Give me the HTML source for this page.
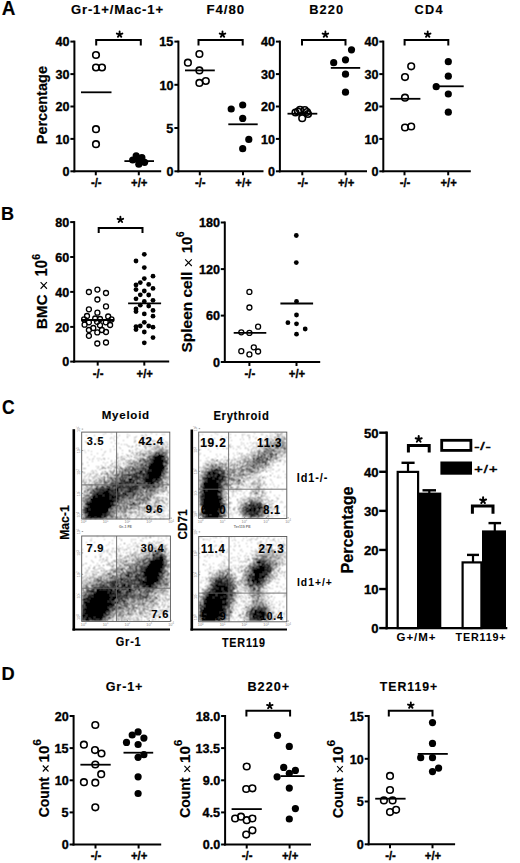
<!DOCTYPE html>
<html><head><meta charset="utf-8"><style>
html,body{margin:0;padding:0;background:#fff;}
body{width:520px;height:863px;overflow:hidden;}
svg{display:block;}
text{font-family:"Liberation Sans",sans-serif;}
</style></head><body><svg width="520" height="863" viewBox="0 0 520 863" font-family="Liberation Sans, sans-serif"><defs><filter id="bl" x="-5%" y="-5%" width="110%" height="110%"><feConvolveMatrix order="3" kernelMatrix="1 2 1 2 4 2 1 2 1" divisor="16"/></filter><filter id="gb" x="0" y="0" width="520" height="863" filterUnits="userSpaceOnUse"><feConvolveMatrix order="3" kernelMatrix="1 2 1 2 12 2 1 2 1" divisor="24"/></filter></defs><text transform="translate(1.83 14.8) scale(0.97 1)" font-size="19.48" font-weight="bold" fill="#000" stroke="#000" stroke-width="0.15">A</text><text transform="translate(70.96 13.5) scale(0.99 1)" font-size="13.23" font-weight="bold" fill="#000" stroke="#000" stroke-width="0.15" letter-spacing="0.84">Gr-1+/Mac-1+</text><text transform="translate(206.61 13.6) scale(0.99 1)" font-size="13.37" font-weight="bold" fill="#000" stroke="#000" stroke-width="0.15" letter-spacing="0.91">F4/80</text><text transform="translate(309.14 13.6) scale(0.96 1)" font-size="13.37" font-weight="bold" fill="#000" stroke="#000" stroke-width="0.15" letter-spacing="1.13">B220</text><text transform="translate(414.48 13.6) scale(0.95 1)" font-size="13.37" font-weight="bold" fill="#000" stroke="#000" stroke-width="0.15" letter-spacing="1.45">CD4</text><text transform="translate(47 144.27) rotate(-90) scale(1.03 1)" font-size="14.1" font-weight="bold" stroke="#000" stroke-width="0.2">Percentage</text><line x1="74.4" y1="40.6" x2="74.4" y2="172.3" stroke="#000" stroke-width="2"/><line x1="70.4" y1="41.6" x2="74.4" y2="41.6" stroke="#000" stroke-width="2"/><text transform="translate(55.5 46.33) scale(1.05 1)" font-size="12" font-weight="bold" fill="#000" stroke="#000" stroke-width="0.35">40</text><line x1="70.4" y1="74.1" x2="74.4" y2="74.1" stroke="#000" stroke-width="2"/><text transform="translate(55.5 78.83) scale(1.05 1)" font-size="12" font-weight="bold" fill="#000" stroke="#000" stroke-width="0.35">30</text><line x1="70.4" y1="106.5" x2="74.4" y2="106.5" stroke="#000" stroke-width="2"/><text transform="translate(55.5 111.23) scale(1.05 1)" font-size="12" font-weight="bold" fill="#000" stroke="#000" stroke-width="0.35">20</text><line x1="70.4" y1="138.9" x2="74.4" y2="138.9" stroke="#000" stroke-width="2"/><text transform="translate(55.5 143.63) scale(1.05 1)" font-size="12" font-weight="bold" fill="#000" stroke="#000" stroke-width="0.35">10</text><line x1="70.4" y1="171.3" x2="74.4" y2="171.3" stroke="#000" stroke-width="2"/><text transform="translate(62.51 176.03) scale(1.05 1)" font-size="12" font-weight="bold" fill="#000" stroke="#000" stroke-width="0.35">0</text><line x1="73.4" y1="171.3" x2="161.2" y2="171.3" stroke="#000" stroke-width="2"/><line x1="95.8" y1="171.3" x2="95.8" y2="175.3" stroke="#000" stroke-width="2"/><text transform="translate(90.95 186.7) scale(0.93 1)" font-size="12.2" font-weight="bold" fill="#000" stroke="#000" stroke-width="0.35">-/-</text><line x1="138.8" y1="171.3" x2="138.8" y2="175.3" stroke="#000" stroke-width="2"/><text transform="translate(131.09 186.7) scale(0.93 1)" font-size="12.2" font-weight="bold" fill="#000" stroke="#000" stroke-width="0.35">+/+</text><polyline points="96.2,45.5 96.2,40 140.8,40 140.8,45.5" fill="none" stroke="#000" stroke-width="2"/><path d="M119.6 34.48L119.6 31.54M119.6 34.48L122.4 33.57M119.6 34.48L121.33 36.86M119.6 34.48L117.87 36.86M119.6 34.48L116.8 33.57" stroke="#000" stroke-width="1.87" stroke-linecap="round" fill="none"/><circle cx="96" cy="55" r="3.3" fill="none" stroke="#000" stroke-width="1.6"/><circle cx="96" cy="67.5" r="3.3" fill="none" stroke="#000" stroke-width="1.6"/><circle cx="102" cy="67.5" r="3.3" fill="none" stroke="#000" stroke-width="1.6"/><circle cx="96" cy="129.2" r="3.3" fill="none" stroke="#000" stroke-width="1.6"/><circle cx="96" cy="144.2" r="3.3" fill="none" stroke="#000" stroke-width="1.6"/><circle cx="136.2" cy="155.8" r="3.6" fill="#000"/><circle cx="132.7" cy="160" r="3.6" fill="#000"/><circle cx="141.9" cy="157.7" r="3.6" fill="#000"/><circle cx="144.6" cy="162.3" r="3.6" fill="#000"/><circle cx="138.8" cy="164.2" r="3.6" fill="#000"/><circle cx="138.5" cy="160" r="3.6" fill="#000"/><line x1="81" y1="92.3" x2="111.5" y2="92.3" stroke="#000" stroke-width="1.8"/><line x1="124.4" y1="161.1" x2="154" y2="161.1" stroke="#000" stroke-width="1.8"/><line x1="178.4" y1="40.6" x2="178.4" y2="172.3" stroke="#000" stroke-width="2"/><line x1="174.4" y1="41.6" x2="178.4" y2="41.6" stroke="#000" stroke-width="2"/><text transform="translate(159.34 46.33) scale(1.05 1)" font-size="12" font-weight="bold" fill="#000" stroke="#000" stroke-width="0.35">15</text><line x1="174.4" y1="84.8" x2="178.4" y2="84.8" stroke="#000" stroke-width="2"/><text transform="translate(159.5 89.53) scale(1.05 1)" font-size="12" font-weight="bold" fill="#000" stroke="#000" stroke-width="0.35">10</text><line x1="174.4" y1="128" x2="178.4" y2="128" stroke="#000" stroke-width="2"/><text transform="translate(166.34 132.73) scale(1.05 1)" font-size="12" font-weight="bold" fill="#000" stroke="#000" stroke-width="0.35">5</text><line x1="174.4" y1="171.3" x2="178.4" y2="171.3" stroke="#000" stroke-width="2"/><text transform="translate(166.51 176.03) scale(1.05 1)" font-size="12" font-weight="bold" fill="#000" stroke="#000" stroke-width="0.35">0</text><line x1="177.4" y1="171.3" x2="263.5" y2="171.3" stroke="#000" stroke-width="2"/><line x1="199.8" y1="171.3" x2="199.8" y2="175.3" stroke="#000" stroke-width="2"/><text transform="translate(194.95 186.7) scale(0.93 1)" font-size="12.2" font-weight="bold" fill="#000" stroke="#000" stroke-width="0.35">-/-</text><line x1="243" y1="171.3" x2="243" y2="175.3" stroke="#000" stroke-width="2"/><text transform="translate(235.29 186.7) scale(0.93 1)" font-size="12.2" font-weight="bold" fill="#000" stroke="#000" stroke-width="0.35">+/+</text><polyline points="198.5,45.5 198.5,40 242.7,40 242.7,45.5" fill="none" stroke="#000" stroke-width="2"/><path d="M222.5 34.48L222.5 31.54M222.5 34.48L225.3 33.57M222.5 34.48L224.23 36.86M222.5 34.48L220.77 36.86M222.5 34.48L219.7 33.57" stroke="#000" stroke-width="1.87" stroke-linecap="round" fill="none"/><circle cx="187.9" cy="62.7" r="3.3" fill="none" stroke="#000" stroke-width="1.6"/><circle cx="199.4" cy="54" r="3.3" fill="none" stroke="#000" stroke-width="1.6"/><circle cx="199.4" cy="70.4" r="3.3" fill="none" stroke="#000" stroke-width="1.6"/><circle cx="205.8" cy="81" r="3.3" fill="none" stroke="#000" stroke-width="1.6"/><circle cx="199.4" cy="82.9" r="3.3" fill="none" stroke="#000" stroke-width="1.6"/><circle cx="231.2" cy="109" r="3.6" fill="#000"/><circle cx="242.7" cy="105" r="3.6" fill="#000"/><circle cx="242.7" cy="118.4" r="3.6" fill="#000"/><circle cx="248.8" cy="139.4" r="3.6" fill="#000"/><circle cx="242.7" cy="148.7" r="3.6" fill="#000"/><line x1="185" y1="70.4" x2="214.8" y2="70.4" stroke="#000" stroke-width="1.8"/><line x1="228.3" y1="124.3" x2="257.7" y2="124.3" stroke="#000" stroke-width="1.8"/><line x1="279.9" y1="40.6" x2="279.9" y2="172.3" stroke="#000" stroke-width="2"/><line x1="275.9" y1="41.6" x2="279.9" y2="41.6" stroke="#000" stroke-width="2"/><text transform="translate(261 46.33) scale(1.05 1)" font-size="12" font-weight="bold" fill="#000" stroke="#000" stroke-width="0.35">40</text><line x1="275.9" y1="74.1" x2="279.9" y2="74.1" stroke="#000" stroke-width="2"/><text transform="translate(261 78.83) scale(1.05 1)" font-size="12" font-weight="bold" fill="#000" stroke="#000" stroke-width="0.35">30</text><line x1="275.9" y1="106.5" x2="279.9" y2="106.5" stroke="#000" stroke-width="2"/><text transform="translate(261 111.23) scale(1.05 1)" font-size="12" font-weight="bold" fill="#000" stroke="#000" stroke-width="0.35">20</text><line x1="275.9" y1="138.9" x2="279.9" y2="138.9" stroke="#000" stroke-width="2"/><text transform="translate(261 143.63) scale(1.05 1)" font-size="12" font-weight="bold" fill="#000" stroke="#000" stroke-width="0.35">10</text><line x1="275.9" y1="171.3" x2="279.9" y2="171.3" stroke="#000" stroke-width="2"/><text transform="translate(268.01 176.03) scale(1.05 1)" font-size="12" font-weight="bold" fill="#000" stroke="#000" stroke-width="0.35">0</text><line x1="278.9" y1="171.3" x2="367" y2="171.3" stroke="#000" stroke-width="2"/><line x1="302.3" y1="171.3" x2="302.3" y2="175.3" stroke="#000" stroke-width="2"/><text transform="translate(297.45 186.7) scale(0.93 1)" font-size="12.2" font-weight="bold" fill="#000" stroke="#000" stroke-width="0.35">-/-</text><line x1="345.6" y1="171.3" x2="345.6" y2="175.3" stroke="#000" stroke-width="2"/><text transform="translate(337.89 186.7) scale(0.93 1)" font-size="12.2" font-weight="bold" fill="#000" stroke="#000" stroke-width="0.35">+/+</text><polyline points="302,45.5 302,40 345.5,40 345.5,45.5" fill="none" stroke="#000" stroke-width="2"/><path d="M325.4 34.48L325.4 31.54M325.4 34.48L328.2 33.57M325.4 34.48L327.13 36.86M325.4 34.48L323.67 36.86M325.4 34.48L322.6 33.57" stroke="#000" stroke-width="1.87" stroke-linecap="round" fill="none"/><circle cx="295.5" cy="112.5" r="3.3" fill="none" stroke="#000" stroke-width="1.6"/><circle cx="298" cy="111.5" r="3.3" fill="none" stroke="#000" stroke-width="1.6"/><circle cx="300" cy="109.8" r="3.3" fill="none" stroke="#000" stroke-width="1.6"/><circle cx="304.8" cy="110" r="3.3" fill="none" stroke="#000" stroke-width="1.6"/><circle cx="307" cy="112" r="3.3" fill="none" stroke="#000" stroke-width="1.6"/><circle cx="308" cy="114" r="3.3" fill="none" stroke="#000" stroke-width="1.6"/><circle cx="302.2" cy="118.2" r="3.3" fill="none" stroke="#000" stroke-width="1.6"/><circle cx="333.7" cy="62.7" r="3.6" fill="#000"/><circle cx="345.5" cy="59.8" r="3.6" fill="#000"/><circle cx="351.5" cy="49.8" r="3.6" fill="#000"/><circle cx="345.5" cy="74.2" r="3.6" fill="#000"/><circle cx="345.5" cy="92.2" r="3.6" fill="#000"/><line x1="287.5" y1="113.7" x2="317.3" y2="113.7" stroke="#000" stroke-width="1.8"/><line x1="330.8" y1="67.9" x2="360.2" y2="67.9" stroke="#000" stroke-width="1.8"/><line x1="383.3" y1="40.6" x2="383.3" y2="172.3" stroke="#000" stroke-width="2"/><line x1="379.3" y1="41.6" x2="383.3" y2="41.6" stroke="#000" stroke-width="2"/><text transform="translate(364.4 46.33) scale(1.05 1)" font-size="12" font-weight="bold" fill="#000" stroke="#000" stroke-width="0.35">40</text><line x1="379.3" y1="74.1" x2="383.3" y2="74.1" stroke="#000" stroke-width="2"/><text transform="translate(364.4 78.83) scale(1.05 1)" font-size="12" font-weight="bold" fill="#000" stroke="#000" stroke-width="0.35">30</text><line x1="379.3" y1="106.5" x2="383.3" y2="106.5" stroke="#000" stroke-width="2"/><text transform="translate(364.4 111.23) scale(1.05 1)" font-size="12" font-weight="bold" fill="#000" stroke="#000" stroke-width="0.35">20</text><line x1="379.3" y1="138.9" x2="383.3" y2="138.9" stroke="#000" stroke-width="2"/><text transform="translate(364.4 143.63) scale(1.05 1)" font-size="12" font-weight="bold" fill="#000" stroke="#000" stroke-width="0.35">10</text><line x1="379.3" y1="171.3" x2="383.3" y2="171.3" stroke="#000" stroke-width="2"/><text transform="translate(371.41 176.03) scale(1.05 1)" font-size="12" font-weight="bold" fill="#000" stroke="#000" stroke-width="0.35">0</text><line x1="382.3" y1="171.3" x2="470.8" y2="171.3" stroke="#000" stroke-width="2"/><line x1="404.5" y1="171.3" x2="404.5" y2="175.3" stroke="#000" stroke-width="2"/><text transform="translate(399.65 186.7) scale(0.93 1)" font-size="12.2" font-weight="bold" fill="#000" stroke="#000" stroke-width="0.35">-/-</text><line x1="448.2" y1="171.3" x2="448.2" y2="175.3" stroke="#000" stroke-width="2"/><text transform="translate(440.49 186.7) scale(0.93 1)" font-size="12.2" font-weight="bold" fill="#000" stroke="#000" stroke-width="0.35">+/+</text><polyline points="404.6,45.5 404.6,40 448.3,40 448.3,45.5" fill="none" stroke="#000" stroke-width="2"/><path d="M427.7 34.48L427.7 31.54M427.7 34.48L430.5 33.57M427.7 34.48L429.43 36.86M427.7 34.48L425.97 36.86M427.7 34.48L424.9 33.57" stroke="#000" stroke-width="1.87" stroke-linecap="round" fill="none"/><circle cx="411.2" cy="66.3" r="3.3" fill="none" stroke="#000" stroke-width="1.6"/><circle cx="405" cy="77.1" r="3.3" fill="none" stroke="#000" stroke-width="1.6"/><circle cx="405" cy="97.7" r="3.3" fill="none" stroke="#000" stroke-width="1.6"/><circle cx="405" cy="127.5" r="3.3" fill="none" stroke="#000" stroke-width="1.6"/><circle cx="411.2" cy="126.5" r="3.3" fill="none" stroke="#000" stroke-width="1.6"/><circle cx="448.3" cy="61.7" r="3.6" fill="#000"/><circle cx="448.3" cy="76.2" r="3.6" fill="#000"/><circle cx="436.2" cy="86.7" r="3.6" fill="#000"/><circle cx="448.3" cy="94" r="3.6" fill="#000"/><circle cx="448.3" cy="112.2" r="3.6" fill="#000"/><line x1="390.2" y1="98.8" x2="420.4" y2="98.8" stroke="#000" stroke-width="1.8"/><line x1="437.7" y1="86.3" x2="463.7" y2="86.3" stroke="#000" stroke-width="1.8"/><text transform="translate(0.99 219.6) scale(0.95 1)" font-size="19.04" font-weight="bold" fill="#000" stroke="#000" stroke-width="0.15">B</text><line x1="74.2" y1="221.1" x2="74.2" y2="362.6" stroke="#000" stroke-width="2"/><line x1="70.2" y1="222.1" x2="74.2" y2="222.1" stroke="#000" stroke-width="2"/><text transform="translate(55.3 226.83) scale(1.05 1)" font-size="12" font-weight="bold" fill="#000" stroke="#000" stroke-width="0.35">80</text><line x1="70.2" y1="257" x2="74.2" y2="257" stroke="#000" stroke-width="2"/><text transform="translate(55.3 261.73) scale(1.05 1)" font-size="12" font-weight="bold" fill="#000" stroke="#000" stroke-width="0.35">60</text><line x1="70.2" y1="291.9" x2="74.2" y2="291.9" stroke="#000" stroke-width="2"/><text transform="translate(55.3 296.63) scale(1.05 1)" font-size="12" font-weight="bold" fill="#000" stroke="#000" stroke-width="0.35">40</text><line x1="70.2" y1="326.9" x2="74.2" y2="326.9" stroke="#000" stroke-width="2"/><text transform="translate(55.3 331.63) scale(1.05 1)" font-size="12" font-weight="bold" fill="#000" stroke="#000" stroke-width="0.35">20</text><line x1="70.2" y1="361.6" x2="74.2" y2="361.6" stroke="#000" stroke-width="2"/><text transform="translate(62.31 366.33) scale(1.05 1)" font-size="12" font-weight="bold" fill="#000" stroke="#000" stroke-width="0.35">0</text><line x1="73.2" y1="361.6" x2="169.2" y2="361.6" stroke="#000" stroke-width="2"/><line x1="97.7" y1="361.6" x2="97.7" y2="365.6" stroke="#000" stroke-width="2"/><text transform="translate(92.85 377.7) scale(0.93 1)" font-size="12.2" font-weight="bold" fill="#000" stroke="#000" stroke-width="0.35">-/-</text><line x1="144.3" y1="361.6" x2="144.3" y2="365.6" stroke="#000" stroke-width="2"/><text transform="translate(136.59 377.7) scale(0.93 1)" font-size="12.2" font-weight="bold" fill="#000" stroke="#000" stroke-width="0.35">+/+</text><polyline points="98.7,232.9 98.7,228 142.5,228 142.5,232.9" fill="none" stroke="#000" stroke-width="2"/><path d="M120.4 219.68L120.4 216.74M120.4 219.68L123.2 218.77M120.4 219.68L122.13 222.06M120.4 219.68L118.67 222.06M120.4 219.68L117.6 218.77" stroke="#000" stroke-width="1.87" stroke-linecap="round" fill="none"/><circle cx="88.9" cy="292" r="2.5" fill="none" stroke="#000" stroke-width="1.3"/><circle cx="97.4" cy="289.6" r="2.5" fill="none" stroke="#000" stroke-width="1.3"/><circle cx="106" cy="293" r="2.5" fill="none" stroke="#000" stroke-width="1.3"/><circle cx="97.4" cy="299.5" r="2.5" fill="none" stroke="#000" stroke-width="1.3"/><circle cx="106" cy="306.4" r="2.5" fill="none" stroke="#000" stroke-width="1.3"/><circle cx="88.9" cy="309.3" r="2.5" fill="none" stroke="#000" stroke-width="1.3"/><circle cx="97.4" cy="312.7" r="2.5" fill="none" stroke="#000" stroke-width="1.3"/><circle cx="87" cy="316" r="2.5" fill="none" stroke="#000" stroke-width="1.3"/><circle cx="108.2" cy="316.5" r="2.5" fill="none" stroke="#000" stroke-width="1.3"/><circle cx="84.1" cy="319.4" r="2.5" fill="none" stroke="#000" stroke-width="1.3"/><circle cx="95.2" cy="318.5" r="2.5" fill="none" stroke="#000" stroke-width="1.3"/><circle cx="100" cy="319" r="2.5" fill="none" stroke="#000" stroke-width="1.3"/><circle cx="111.5" cy="319.4" r="2.5" fill="none" stroke="#000" stroke-width="1.3"/><circle cx="88.9" cy="322.3" r="2.5" fill="none" stroke="#000" stroke-width="1.3"/><circle cx="97.1" cy="321.8" r="2.5" fill="none" stroke="#000" stroke-width="1.3"/><circle cx="105.8" cy="322.3" r="2.5" fill="none" stroke="#000" stroke-width="1.3"/><circle cx="84.6" cy="324.7" r="2.5" fill="none" stroke="#000" stroke-width="1.3"/><circle cx="100" cy="325.2" r="2.5" fill="none" stroke="#000" stroke-width="1.3"/><circle cx="110.1" cy="325" r="2.5" fill="none" stroke="#000" stroke-width="1.3"/><circle cx="93.3" cy="328" r="2.5" fill="none" stroke="#000" stroke-width="1.3"/><circle cx="88.9" cy="330" r="2.5" fill="none" stroke="#000" stroke-width="1.3"/><circle cx="101.9" cy="330" r="2.5" fill="none" stroke="#000" stroke-width="1.3"/><circle cx="97.3" cy="332.4" r="2.5" fill="none" stroke="#000" stroke-width="1.3"/><circle cx="106" cy="332" r="2.5" fill="none" stroke="#000" stroke-width="1.3"/><circle cx="88.9" cy="335.8" r="2.5" fill="none" stroke="#000" stroke-width="1.3"/><circle cx="97.3" cy="343.5" r="2.5" fill="none" stroke="#000" stroke-width="1.3"/><circle cx="106" cy="342.5" r="2.5" fill="none" stroke="#000" stroke-width="1.3"/><line x1="81.7" y1="320" x2="114" y2="320" stroke="#000" stroke-width="1.8"/><circle cx="144.3" cy="254.3" r="2.4" fill="#000"/><circle cx="136" cy="261" r="2.4" fill="#000"/><circle cx="144.3" cy="267.6" r="2.4" fill="#000"/><circle cx="153" cy="276.2" r="2.4" fill="#000"/><circle cx="144.3" cy="278.6" r="2.4" fill="#000"/><circle cx="140.3" cy="282.6" r="2.4" fill="#000"/><circle cx="136" cy="285" r="2.4" fill="#000"/><circle cx="148.7" cy="284.4" r="2.4" fill="#000"/><circle cx="136" cy="289.6" r="2.4" fill="#000"/><circle cx="153" cy="288.4" r="2.4" fill="#000"/><circle cx="144.3" cy="291" r="2.4" fill="#000"/><circle cx="140.3" cy="294.8" r="2.4" fill="#000"/><circle cx="148.7" cy="295" r="2.4" fill="#000"/><circle cx="136" cy="298.8" r="2.4" fill="#000"/><circle cx="144.3" cy="301.5" r="2.4" fill="#000"/><circle cx="153" cy="300.3" r="2.4" fill="#000"/><circle cx="140.3" cy="305.2" r="2.4" fill="#000"/><circle cx="148.7" cy="306.1" r="2.4" fill="#000"/><circle cx="136" cy="308.9" r="2.4" fill="#000"/><circle cx="136" cy="311.5" r="2.4" fill="#000"/><circle cx="153" cy="310.4" r="2.4" fill="#000"/><circle cx="144.3" cy="313.9" r="2.4" fill="#000"/><circle cx="153" cy="316.2" r="2.4" fill="#000"/><circle cx="144.3" cy="322.3" r="2.4" fill="#000"/><circle cx="136" cy="326.6" r="2.4" fill="#000"/><circle cx="140.3" cy="326" r="2.4" fill="#000"/><circle cx="148.7" cy="326" r="2.4" fill="#000"/><circle cx="153" cy="327.2" r="2.4" fill="#000"/><circle cx="136" cy="329.5" r="2.4" fill="#000"/><circle cx="144.3" cy="332" r="2.4" fill="#000"/><circle cx="153" cy="337.6" r="2.4" fill="#000"/><circle cx="144.3" cy="342.8" r="2.4" fill="#000"/><line x1="128.1" y1="303.4" x2="161.1" y2="303.4" stroke="#000" stroke-width="1.8"/><text transform="translate(46.6 329.33) rotate(-90) scale(0.99 1)" font-size="15.55" font-weight="bold" stroke="#000" stroke-width="0.2">BMC</text><text transform="translate(46.6 276.53) rotate(-90) scale(0.94 1)" font-size="15.7" font-weight="bold" stroke="#000" stroke-width="0.2">10</text><text transform="translate(39.6 259.79) rotate(-90) scale(0.92 1)" font-size="11.46" font-weight="bold" stroke="#000" stroke-width="0.2">6</text><g transform="translate(40.6 288.75) rotate(-90)"><path d="M0 0L6.7 6.3M6.7 0L0 6.3" stroke="#000" stroke-width="1.1"/></g><line x1="224.8" y1="221.5" x2="224.8" y2="363" stroke="#000" stroke-width="2"/><line x1="220.8" y1="222.5" x2="224.8" y2="222.5" stroke="#000" stroke-width="2"/><text transform="translate(198.89 227.23) scale(1.05 1)" font-size="12" font-weight="bold" fill="#000" stroke="#000" stroke-width="0.35">180</text><line x1="220.8" y1="269.1" x2="224.8" y2="269.1" stroke="#000" stroke-width="2"/><text transform="translate(198.89 273.83) scale(1.05 1)" font-size="12" font-weight="bold" fill="#000" stroke="#000" stroke-width="0.35">120</text><line x1="220.8" y1="315.6" x2="224.8" y2="315.6" stroke="#000" stroke-width="2"/><text transform="translate(205.9 320.33) scale(1.05 1)" font-size="12" font-weight="bold" fill="#000" stroke="#000" stroke-width="0.35">60</text><line x1="220.8" y1="362" x2="224.8" y2="362" stroke="#000" stroke-width="2"/><text transform="translate(212.91 366.73) scale(1.05 1)" font-size="12" font-weight="bold" fill="#000" stroke="#000" stroke-width="0.35">0</text><line x1="223.8" y1="362" x2="320.2" y2="362" stroke="#000" stroke-width="2"/><line x1="249.4" y1="362" x2="249.4" y2="366" stroke="#000" stroke-width="2"/><text transform="translate(244.55 378.4) scale(0.93 1)" font-size="12.2" font-weight="bold" fill="#000" stroke="#000" stroke-width="0.35">-/-</text><line x1="296.5" y1="362" x2="296.5" y2="366" stroke="#000" stroke-width="2"/><text transform="translate(288.79 378.4) scale(0.93 1)" font-size="12.2" font-weight="bold" fill="#000" stroke="#000" stroke-width="0.35">+/+</text><circle cx="249.4" cy="291.9" r="2.5" fill="none" stroke="#000" stroke-width="1.3"/><circle cx="249.4" cy="307.5" r="2.5" fill="none" stroke="#000" stroke-width="1.3"/><circle cx="258.1" cy="326.7" r="2.5" fill="none" stroke="#000" stroke-width="1.3"/><circle cx="241.3" cy="332.3" r="2.5" fill="none" stroke="#000" stroke-width="1.3"/><circle cx="249.4" cy="332.9" r="2.5" fill="none" stroke="#000" stroke-width="1.3"/><circle cx="253.8" cy="347.3" r="2.5" fill="none" stroke="#000" stroke-width="1.3"/><circle cx="241.3" cy="351.2" r="2.5" fill="none" stroke="#000" stroke-width="1.3"/><circle cx="258.1" cy="351.5" r="2.5" fill="none" stroke="#000" stroke-width="1.3"/><circle cx="249.4" cy="354.4" r="2.5" fill="none" stroke="#000" stroke-width="1.3"/><line x1="233.7" y1="332.9" x2="266.3" y2="332.9" stroke="#000" stroke-width="1.8"/><circle cx="296.3" cy="235.5" r="2.4" fill="#000"/><circle cx="296.3" cy="262.6" r="2.4" fill="#000"/><circle cx="296.5" cy="301.5" r="2.4" fill="#000"/><circle cx="296.5" cy="315" r="2.4" fill="#000"/><circle cx="287.9" cy="322.7" r="2.4" fill="#000"/><circle cx="296.5" cy="323.8" r="2.4" fill="#000"/><circle cx="305.2" cy="329" r="2.4" fill="#000"/><circle cx="296.5" cy="334.2" r="2.4" fill="#000"/><line x1="280.4" y1="303.5" x2="313.1" y2="303.5" stroke="#000" stroke-width="1.8"/><text transform="translate(191.9 352.44) rotate(-90) scale(1.01 1)" font-size="15.29" font-weight="bold" stroke="#000" stroke-width="0.2">Spleen cell</text><text transform="translate(191.9 253.35) rotate(-90) scale(0.98 1)" font-size="15.41" font-weight="bold" stroke="#000" stroke-width="0.2">10</text><text transform="translate(184.4 236.97) rotate(-90) scale(0.91 1)" font-size="11.17" font-weight="bold" stroke="#000" stroke-width="0.2">6</text><g transform="translate(185.2 266.0) rotate(-90)"><path d="M0 0L6.6 6.6M6.6 0L0 6.6" stroke="#000" stroke-width="1.1"/></g><text transform="translate(1.88 414.2) scale(0.88 1)" font-size="19.91" font-weight="bold" fill="#000" stroke="#000" stroke-width="0.15">C</text><text transform="translate(101.73 419) scale(0.99 1)" font-size="11.63" font-weight="bold" fill="#000" stroke="#000" stroke-width="0.15" letter-spacing="0.77">Myeloid</text><text transform="translate(213.45 419.5) scale(0.91 1)" font-size="12.35" font-weight="bold" fill="#000" stroke="#000" stroke-width="0.15" letter-spacing="0.74">Erythroid</text><g filter="url(#bl)" transform="translate(0 0.5)" fill="none" stroke-width="1"><path stroke="#b0b0b0" d="M105 433h1m5 0h1m39 0h1M103 434h1m23 0h1m17 0h1m10 0h1m5 0h1m1 0h1M86 435h1m7 0h1m24 0h1m9 0h1m11 0h2m3 0h1M114 436h1m12 0h1m8 0h1m6 0h1M111 437h1m5 0h1m9 0h1m6 0h2m8 0h1m5 0h1M110 438h1m2 0h1m28 0h1M96 439h2m36 0h1m8 0h1m1 0h1m2 0h1m1 0h1m12 0h1M114 440h1m8 0h1m11 0h1m5 0h1m10 0h1m1 0h1m5 0h1M85 441h1m48 0h2m4 0h1m8 0h1m2 0h2m1 0h1m1 0h2m3 0h1m2 0h1M86 442h1m10 0h1m13 0h1m22 0h1m10 0h2m2 0h1m16 0h2M87 443h1m10 0h1m16 0h1m2 0h1m20 0h1m3 0h1m1 0h1m4 0h1m2 0h1m4 0h1m3 0h3M95 444h1m25 0h1m2 0h1m1 0h1m9 0h1m9 0h1m5 0h1m2 0h1m1 0h1m5 0h1M127 445h1m8 0h1m8 0h1m2 0h4m1 0h1m1 0h1m8 0h2M113 446h1m14 0h2m5 0h1m9 0h1m2 0h1m5 0h1m1 0h3m2 0h2m3 0h2M119 447h1m11 0h1m13 0h2m5 0h5m1 0h2m3 0h1m2 0h1m1 0h1M120 448h1m15 0h2m11 0h1m1 0h1m2 0h3m1 0h4M101 449h1m8 0h1m3 0h1m20 0h1m3 0h1m2 0h1m3 0h1m4 0h2m3 0h2m2 0h1m1 0h1m1 0h3m1 0h1M84 450h1m3 0h1m33 0h1m9 0h1m3 0h1m4 0h1m2 0h1m3 0h3m3 0h1m2 0h1m1 0h1m2 0h2m1 0h1m2 0h1M91 451h1m13 0h1m4 0h1m18 0h2m11 0h1m1 0h5m1 0h2m2 0h2m1 0h2m1 0h1m2 0h5M85 452h1m18 0h1m30 0h1m1 0h4m5 0h1m1 0h2m2 0h3m6 0h1m5 0h1M97 453h1m19 0h1m4 0h1m8 0h1m1 0h1m3 0h1m5 0h3m2 0h1m2 0h1m2 0h1m5 0h1m4 0h1m1 0h1M91 454h1m11 0h1m13 0h1m8 0h1m6 0h1m2 0h2m1 0h1m3 0h1m1 0h4m1 0h2m1 0h1m3 0h1m5 0h2m2 0h1M102 455h1m14 0h1m10 0h1m1 0h1m3 0h3m1 0h3m1 0h1m5 0h1m1 0h1m1 0h1m13 0h2M94 456h1m21 0h1m4 0h2m1 0h1m3 0h1m8 0h1m1 0h1m1 0h1m1 0h3m1 0h1m17 0h1M87 457h1m29 0h2m1 0h2m4 0h1m2 0h1m5 0h2m3 0h1m1 0h1m7 0h2m16 0h1M93 458h1m3 0h1m1 0h1m3 0h2m3 0h1m13 0h3m11 0h4m1 0h1m2 0h1m1 0h1M89 459h1m2 0h1m8 0h1m2 0h1m15 0h3m7 0h2m3 0h1m1 0h2m2 0h1m4 0h1m1 0h1M98 460h1m12 0h1m3 0h1m2 0h1m3 0h1m6 0h3m2 0h1m2 0h2m7 0h1m21 0h1M92 461h1m18 0h1m6 0h1m1 0h1m4 0h1m2 0h3m1 0h4m5 0h1m1 0h1m5 0h1m18 0h1M87 462h1m15 0h1m3 0h1m6 0h4m5 0h1m2 0h1m1 0h1m3 0h1m3 0h1m1 0h1m1 0h1m1 0h2m3 0h1m20 0h1M82 463h1m22 0h1m12 0h1m1 0h1m4 0h1m2 0h1m1 0h1m3 0h3m1 0h3m3 0h2m18 0h1M82 464h1m28 0h2m2 0h1m2 0h1m1 0h1m3 0h1m1 0h1m1 0h3m1 0h2m2 0h1m1 0h1m4 0h2m2 0h1m16 0h1m1 0h1M88 465h1m12 0h1m3 0h1m9 0h1m1 0h2m4 0h1m2 0h3m1 0h1m2 0h2m2 0h3m7 0h1m19 0h2M96 466h1m1 0h1m3 0h1m5 0h1m2 0h4m1 0h2m2 0h1m4 0h1m1 0h2m4 0h2m4 0h1m2 0h1m1 0h1m23 0h1M98 467h1m3 0h1m1 0h1m2 0h3m4 0h1m2 0h1m3 0h1m4 0h1m2 0h1m4 0h3m3 0h1m4 0h1m19 0h2M83 468h3m11 0h1m3 0h1m2 0h1m3 0h1m1 0h2m2 0h1m1 0h4m3 0h3m2 0h1m1 0h1m16 0h1M99 469h2m13 0h1m3 0h2m1 0h1m8 0h1m5 0h1m2 0h1m1 0h1m23 0h1M92 470h1m2 0h1m13 0h2m2 0h1m2 0h1m3 0h1m2 0h1m4 0h2m7 0h1m28 0h1m1 0h1M91 471h1m1 0h1m2 0h1m5 0h1m1 0h1m4 0h2m3 0h1m1 0h1m4 0h1m1 0h2m5 0h1m2 0h1m2 0h1m1 0h1m4 0h1m20 0h1m2 0h2M83 472h2m8 0h1m8 0h1m3 0h2m2 0h3m11 0h1m2 0h1m2 0h1m2 0h2M84 473h1m3 0h1m1 0h1m1 0h2m1 0h1m1 0h1m4 0h4m4 0h2m1 0h1m3 0h2m1 0h1m2 0h3m4 0h1m1 0h1m35 0h1M87 474h1m8 0h2m6 0h3m1 0h2m2 0h2m2 0h1m45 0h1m3 0h1m1 0h1M86 475h1m2 0h1m5 0h2m1 0h1m1 0h1m6 0h1m3 0h2m6 0h2m17 0h1m25 0h3m1 0h1M84 476h2m3 0h1m1 0h1m4 0h1m2 0h1m3 0h1m4 0h1m1 0h1m4 0h2m1 0h3m2 0h1m1 0h1m1 0h1m13 0h1m23 0h1M88 477h1m3 0h2m1 0h1m1 0h1m2 0h4m1 0h1m2 0h1m4 0h1m1 0h1m2 0h1m9 0h1m1 0h1m31 0h1m1 0h1m2 0h1M84 478h1m8 0h2m4 0h1m1 0h2m4 0h3m2 0h2m3 0h1m3 0h1m2 0h1m2 0h1m5 0h1m31 0h4M83 479h1m2 0h1m1 0h2m2 0h1m6 0h1m2 0h1m4 0h4m7 0h1m7 0h1m14 0h1m20 0h1m1 0h1m1 0h1M85 480h1m3 0h1m4 0h3m1 0h1m1 0h1m1 0h1m3 0h1m1 0h1m1 0h2m2 0h1m1 0h1m1 0h1m7 0h1m11 0h1m25 0h1m1 0h2M82 481h2m2 0h1m2 0h1m1 0h1m1 0h1m2 0h1m1 0h3m5 0h2m4 0h1m4 0h1m1 0h1m15 0h1m2 0h1m1 0h1m20 0h1m1 0h2m1 0h3M82 482h1m2 0h2m2 0h1m2 0h1m1 0h3m3 0h1m2 0h1m4 0h3m3 0h1m27 0h1m16 0h1m6 0h1M84 483h2m2 0h1m3 0h1m2 0h1m1 0h5m1 0h1m4 0h2m7 0h1m28 0h1m8 0h1m7 0h3m2 0h1M84 484h2m5 0h2m1 0h1m2 0h2m3 0h2m1 0h2m23 0h1m2 0h1m22 0h2m2 0h2m1 0h1M83 485h1m1 0h1m8 0h1m1 0h1m1 0h1m1 0h1m2 0h1m5 0h1m14 0h1m30 0h1m4 0h1m4 0h1M82 486h1m3 0h1m3 0h1m1 0h1m1 0h2m3 0h2m3 0h2m5 0h1m27 0h1m1 0h1m9 0h1m4 0h1m3 0h1m2 0h2m3 0h1M84 487h1m1 0h7m1 0h1m3 0h2m5 0h1m8 0h1m25 0h1m18 0h2m1 0h2M82 488h1m1 0h3m1 0h2m1 0h1m47 0h1m1 0h1m4 0h1m2 0h1m1 0h1m1 0h1m1 0h1m1 0h2m3 0h1m1 0h1M82 489h1m3 0h1m3 0h2m2 0h1m24 0h1m4 0h1m1 0h1m15 0h2m1 0h1m2 0h1m4 0h1m2 0h1m2 0h1m2 0h2m2 0h1M84 490h1m6 0h1m3 0h1m42 0h2m8 0h1m6 0h2m1 0h2m1 0h7M85 491h1m4 0h1m28 0h1m3 0h1m10 0h1m2 0h1m3 0h2m4 0h2m3 0h1m4 0h2m2 0h1m5 0h1M85 492h1m1 0h1m4 0h1m28 0h1m16 0h2m2 0h1m1 0h1m3 0h2m3 0h3m2 0h1m3 0h1M83 493h1m3 0h3m37 0h1m1 0h1m1 0h1m4 0h1m2 0h1m4 0h4m1 0h1m2 0h1m2 0h1m1 0h1m2 0h1m1 0h1m4 0h1M83 494h4m53 0h2m6 0h1m1 0h1m1 0h1m2 0h2m3 0h1m2 0h1m2 0h1M83 495h1m1 0h1m43 0h1m1 0h1m3 0h1m3 0h1m4 0h3m1 0h1m3 0h2m13 0h1M87 496h1m1 0h1m35 0h1m3 0h1m4 0h2m3 0h1m3 0h3m5 0h1m1 0h3m2 0h1M85 497h1m1 0h2m2 0h1m28 0h1m6 0h1m3 0h1m2 0h3m1 0h1m1 0h3m3 0h1m1 0h1m2 0h1m2 0h1m1 0h1m4 0h3m1 0h1M120 498h1m4 0h1m1 0h1m7 0h1m1 0h1m5 0h1m1 0h1m3 0h2m1 0h8m2 0h2M83 499h2m1 0h1m2 0h1m32 0h1m1 0h2m1 0h1m1 0h1m1 0h3m1 0h1m3 0h1m5 0h1m4 0h1m4 0h1m5 0h1m3 0h3M84 500h1m3 0h1m31 0h1m4 0h1m1 0h1m3 0h1m1 0h2m3 0h1m8 0h1m1 0h1m1 0h1m1 0h1m1 0h3m2 0h1m2 0h1m2 0h1M82 501h2m1 0h1m33 0h1m2 0h2m1 0h2m1 0h1m3 0h2m1 0h1m4 0h2m2 0h2m1 0h1m1 0h1m5 0h1m2 0h2m2 0h2m4 0h1M83 502h1m1 0h1m34 0h1m1 0h2m3 0h1m1 0h1m1 0h1m3 0h1m5 0h1m2 0h1m1 0h3m3 0h2m3 0h1m4 0h2M82 503h2m30 0h1m1 0h2m7 0h2m2 0h1m5 0h1m1 0h1m5 0h1m4 0h1m1 0h1m4 0h1m2 0h3m3 0h2M119 504h1m1 0h3m1 0h2m1 0h1m8 0h1m2 0h1m4 0h1m2 0h1m2 0h2m1 0h2m1 0h1m4 0h1m3 0h1M83 505h3m34 0h2m2 0h2m1 0h1m5 0h1m2 0h1m1 0h1m6 0h1m2 0h1m6 0h4m1 0h1m5 0h1M82 506h1m1 0h1m1 0h1m28 0h1m5 0h2m2 0h1m3 0h2m1 0h6m1 0h2m1 0h1m1 0h1m1 0h1m3 0h2m3 0h1m2 0h2m1 0h4m2 0h1M112 507h1m1 0h1m2 0h1m1 0h1m2 0h2m4 0h1m4 0h1m2 0h1m3 0h1m1 0h2m2 0h2m2 0h1m1 0h1m1 0h2m6 0h1m1 0h1M83 508h1m30 0h1m2 0h2m9 0h1m3 0h3m3 0h2m5 0h1m1 0h4m2 0h1m5 0h1m4 0h1m1 0h1M109 509h1m3 0h4m4 0h2m1 0h1m1 0h1m2 0h3m2 0h1m2 0h1m2 0h1m1 0h3m1 0h2m3 0h1m6 0h3m1 0h1M109 510h1m1 0h2m4 0h4m2 0h1m5 0h2m7 0h1m2 0h5m5 0h1m2 0h1m2 0h1m2 0h1m4 0h1m2 0h1M82 511h2m32 0h2m11 0h1m3 0h2m1 0h1m5 0h1m1 0h1m1 0h2m2 0h1m3 0h1m1 0h1m2 0h1m3 0h1M111 512h1m3 0h2m3 0h4m2 0h1m1 0h1m2 0h1m1 0h4m1 0h2m1 0h1m2 0h1m3 0h1m1 0h3m1 0h1m1 0h1M83 513h1m27 0h1m4 0h2m4 0h1m5 0h1m1 0h1m4 0h2m1 0h2m1 0h3m7 0h1m5 0h2m3 0h2M83 514h2m1 0h1m23 0h1m1 0h1m1 0h1m2 0h2m1 0h1m2 0h2m1 0h1m3 0h1m3 0h1m1 0h1m2 0h2m1 0h1m3 0h1m9 0h2m1 0h2m7 0h1M82 515h1m29 0h1m6 0h6m3 0h1m2 0h1m7 0h1m2 0h4m3 0h1m4 0h1m3 0h2m1 0h1m2 0h1m2 0h1M82 516h3m23 0h2m4 0h5m2 0h1m1 0h4m5 0h1m1 0h1m1 0h1m3 0h3m1 0h1m2 0h2m1 0h3m9 0h2m1 0h1m2 0h1M82 517h1m25 0h3m2 0h2m3 0h2m1 0h1m3 0h3m1 0h2m7 0h1m3 0h1m2 0h2m2 0h2m9 0h1M82 518h1m21 0h2m2 0h1m1 0h4m1 0h1m1 0h1m4 0h1m5 0h2m5 0h1m9 0h2m8 0h1m4 0h1m2 0h1M215 433h1m38 0h1m15 0h1m6 0h1m4 0h1M202 434h1m14 0h1m12 0h1m11 0h1m1 0h1m16 0h2m9 0h1m5 0h2m5 0h1M199 435h1m11 0h1m23 0h1m6 0h1m4 0h3m16 0h1m3 0h1m6 0h2m1 0h1m1 0h1M221 436h1m31 0h1m13 0h1m2 0h1m1 0h1m2 0h1m2 0h2m1 0h2m1 0h1M226 437h1m3 0h1m11 0h1m13 0h1m8 0h1m9 0h1m3 0h1m2 0h2M214 438h1m40 0h1m9 0h1m2 0h1m1 0h2m3 0h1m4 0h3m2 0h1M210 439h1m29 0h1m2 0h1m5 0h1m11 0h2m4 0h3m1 0h2m1 0h1m1 0h1m1 0h1m2 0h1m2 0h1M207 440h1m13 0h1m9 0h1m30 0h1m2 0h1m3 0h1m2 0h1m2 0h4m2 0h3M200 441h1m61 0h1m1 0h1m2 0h1m3 0h2m2 0h2m2 0h1m1 0h2M203 442h1m1 0h1m6 0h1m28 0h1m8 0h1m3 0h1m1 0h1m6 0h1m3 0h2m2 0h1m1 0h1m2 0h2m3 0h1m1 0h1M209 443h1m3 0h1m9 0h1m19 0h1m3 0h1m4 0h2m2 0h1m1 0h1m10 0h1m1 0h2m1 0h3m1 0h1m1 0h2m1 0h3M216 444h1m4 0h1m8 0h1m10 0h1m14 0h1m3 0h1m1 0h2m1 0h3m1 0h1m2 0h1m2 0h3m1 0h1m2 0h1m1 0h2M201 445h1m26 0h2m14 0h1m6 0h1m5 0h1m2 0h1m4 0h3m1 0h1m5 0h1m2 0h4M200 446h1m15 0h1m12 0h2m1 0h1m4 0h1m1 0h1m9 0h1m3 0h1m2 0h1m1 0h3m3 0h1m1 0h1m2 0h1m2 0h2m1 0h1m5 0h1m3 0h1M205 447h1m24 0h1m7 0h1m6 0h1m8 0h1m1 0h2m2 0h1m1 0h4m1 0h1m2 0h2m2 0h1m7 0h1m1 0h1M217 448h1m5 0h1m2 0h2m5 0h1m6 0h1m4 0h1m1 0h1m4 0h2m1 0h1m3 0h1m3 0h2m2 0h1m3 0h2m3 0h1m3 0h3M200 449h1m7 0h1m27 0h1m11 0h1m2 0h1m4 0h1m2 0h1m1 0h5m5 0h1m4 0h4M248 450h1m2 0h1m2 0h1m2 0h2m1 0h1m4 0h1m1 0h1m2 0h1m3 0h3m1 0h1m1 0h6M210 451h1m40 0h1m2 0h1m1 0h2m2 0h2m5 0h1m1 0h1m7 0h1m6 0h1M237 452h1m12 0h6m1 0h2m3 0h2m2 0h1m1 0h1m1 0h1m1 0h1m1 0h1m2 0h5m2 0h1M200 453h1m32 0h1m7 0h2m4 0h1m3 0h1m1 0h1m3 0h1m2 0h2m2 0h2m2 0h1m5 0h1m3 0h1m4 0h3M199 454h1m16 0h1m3 0h1m7 0h1m8 0h1m3 0h1m4 0h2m3 0h4m6 0h2m11 0h1m5 0h4M204 455h1m29 0h1m6 0h1m1 0h2m3 0h1m1 0h2m4 0h1m3 0h1m2 0h1m2 0h2m1 0h1m2 0h1m1 0h1m3 0h5m2 0h1M217 456h1m6 0h1m16 0h2m1 0h5m2 0h1m1 0h2m1 0h2m1 0h1m3 0h1m1 0h1m3 0h1m3 0h1m9 0h1m1 0h1M208 457h1m15 0h1m1 0h1m6 0h1m4 0h1m1 0h1m1 0h1m2 0h2m1 0h1m2 0h1m2 0h1m1 0h1m5 0h1m6 0h1m2 0h4m2 0h1m2 0h1m2 0h1M206 458h1m8 0h1m18 0h1m3 0h1m1 0h2m1 0h5m1 0h1m13 0h1m1 0h1m5 0h1m2 0h1m1 0h2M211 459h1m1 0h1m7 0h2m2 0h1m3 0h1m2 0h1m1 0h3m1 0h1m6 0h2m4 0h1m3 0h1m5 0h1m9 0h3m1 0h1m1 0h1m2 0h1m1 0h1M200 460h1m6 0h1m3 0h1m1 0h2m5 0h1m3 0h1m1 0h1m4 0h2m1 0h1m7 0h2m1 0h2m1 0h1m2 0h2m1 0h1m2 0h1m5 0h1m1 0h1m4 0h3m5 0h2m4 0h1M205 461h1m1 0h1m1 0h1m2 0h1m1 0h2m1 0h1m1 0h1m3 0h1m3 0h2m2 0h1m4 0h1m1 0h1m4 0h2m1 0h1m2 0h1m1 0h1m3 0h1m4 0h2m5 0h1m3 0h1m1 0h1m2 0h2m1 0h2m4 0h1M208 462h3m1 0h1m1 0h1m3 0h2m4 0h1m1 0h1m3 0h2m2 0h1m2 0h1m1 0h1m2 0h2m1 0h2m1 0h2m1 0h2m3 0h1m10 0h2m1 0h1m1 0h4m8 0h1M203 463h1m2 0h1m8 0h1m3 0h2m3 0h2m2 0h1m3 0h1m1 0h2m1 0h1m1 0h1m1 0h2m5 0h4m1 0h2m3 0h1m1 0h2m1 0h1m5 0h1m2 0h1M206 464h1m2 0h1m3 0h2m2 0h2m5 0h1m1 0h1m8 0h1m3 0h1m2 0h2m1 0h1m2 0h1m1 0h1m1 0h1m2 0h1m2 0h1m1 0h3m4 0h1m1 0h1m2 0h1m10 0h1M203 465h1m1 0h4m1 0h1m5 0h2m1 0h1m1 0h2m1 0h1m1 0h1m5 0h2m6 0h1m4 0h1m3 0h1m5 0h1m2 0h1m1 0h1m2 0h1m3 0h1m1 0h2m1 0h2m3 0h2M203 466h2m2 0h3m1 0h1m1 0h2m2 0h1m2 0h1m2 0h3m1 0h4m2 0h2m1 0h1m7 0h1m1 0h1m7 0h1m1 0h1m2 0h1m1 0h3m2 0h1M199 467h2m1 0h2m5 0h3m3 0h1m1 0h1m3 0h4m2 0h2m3 0h2m1 0h1m3 0h1m2 0h3m1 0h5m7 0h2m1 0h1m7 0h3M201 468h1m1 0h1m1 0h1m3 0h2m1 0h3m3 0h1m6 0h1m4 0h2m1 0h2m3 0h1m1 0h1m7 0h1m1 0h3m2 0h1m7 0h2m1 0h1M205 469h1m3 0h1m11 0h1m1 0h1m2 0h2m4 0h1m4 0h2m13 0h1m1 0h2m1 0h1m1 0h2m3 0h2m4 0h1m1 0h2m5 0h1M200 470h3m1 0h2m2 0h1m1 0h1m15 0h1m1 0h4m2 0h2m3 0h2m1 0h1m1 0h1m1 0h3m1 0h1m1 0h1m3 0h2m3 0h1m3 0h1m2 0h1m9 0h1M201 471h3m2 0h1m19 0h1m2 0h1m3 0h1m2 0h2m10 0h1m8 0h2m3 0h1m7 0h1m5 0h1m6 0h1M219 472h2m5 0h1m2 0h2m5 0h1m2 0h1m1 0h3m1 0h1m1 0h1m1 0h2m2 0h2m3 0h3M204 473h1m20 0h2m2 0h2m3 0h2m1 0h1m1 0h1m2 0h1m2 0h6m5 0h1m2 0h1m12 0h1M199 474h4m28 0h1m3 0h1m2 0h1m1 0h1m4 0h3m2 0h4m1 0h1m1 0h1m27 0h1M200 475h1m1 0h3m23 0h2m5 0h2m1 0h1m2 0h1m1 0h1m1 0h1m1 0h1m2 0h1m3 0h1m1 0h1m4 0h1m16 0h1M199 476h3m1 0h1m1 0h1m21 0h2m1 0h1m3 0h3m1 0h5m7 0h1m3 0h1m4 0h2m3 0h1m2 0h1m6 0h1M199 477h3m30 0h1m1 0h3m1 0h4m4 0h3m3 0h2m1 0h3m1 0h1m5 0h1m11 0h2m1 0h1m4 0h1M200 478h1m23 0h1m1 0h2m6 0h1m1 0h3m3 0h2m2 0h3m1 0h1m1 0h1m1 0h1m3 0h2m5 0h1M201 479h1m24 0h1m3 0h1m1 0h1m2 0h1m1 0h1m5 0h1m1 0h2m1 0h1m1 0h1m1 0h1m3 0h3m1 0h1m1 0h1m7 0h1M202 480h1m27 0h1m4 0h2m8 0h1m1 0h2m5 0h1m3 0h1m1 0h1m10 0h1M199 481h2m2 0h1m22 0h2m5 0h2m7 0h1m6 0h1m3 0h3m4 0h1m2 0h2M199 482h3m21 0h2m1 0h1m2 0h3m4 0h4m1 0h1m2 0h1m7 0h3m1 0h1m1 0h2m4 0h1m7 0h1M200 483h1m1 0h1m20 0h1m4 0h1m2 0h1m2 0h1m1 0h2m3 0h2m2 0h1m2 0h1m1 0h2m1 0h6m5 0h1m17 0h1M200 484h1m21 0h1m7 0h1m1 0h3m1 0h2m1 0h1m2 0h2m2 0h1m4 0h5m3 0h2m1 0h1m2 0h2m3 0h1m2 0h1M202 485h1m22 0h1m2 0h1m6 0h1m5 0h1m4 0h1m1 0h1m2 0h1m1 0h1m1 0h1m2 0h2m2 0h1m2 0h1m12 0h1M223 486h4m1 0h1m1 0h1m7 0h2m4 0h1m1 0h1m2 0h2m2 0h1m4 0h2m1 0h1m12 0h1M199 487h1m24 0h1m8 0h1m2 0h3m3 0h1m4 0h1m1 0h2m2 0h5m9 0h1m9 0h1M200 488h2m22 0h1m1 0h3m1 0h2m3 0h1m3 0h2m15 0h1m1 0h3m2 0h2m6 0h1M200 489h2m17 0h1m2 0h1m2 0h1m3 0h1m2 0h2m1 0h1m1 0h1m3 0h1m9 0h1m2 0h1m2 0h3m1 0h1M223 490h2m3 0h1m1 0h1m2 0h1m4 0h3m5 0h1m4 0h3m5 0h1m2 0h3m17 0h1M223 491h2m6 0h1m3 0h2m4 0h1m10 0h1m1 0h3m1 0h2m1 0h1m8 0h1M202 492h1m19 0h3m7 0h1m11 0h1m5 0h1m2 0h1m1 0h1m1 0h2m4 0h2m1 0h1m3 0h1M200 493h1m24 0h2m6 0h1m3 0h1m5 0h1m5 0h3m12 0h2M199 494h2m18 0h1m2 0h4m1 0h1m4 0h1m7 0h1m10 0h1m1 0h1m1 0h1m1 0h3m1 0h1m3 0h1M223 495h3m7 0h1m10 0h1m10 0h2m5 0h3m9 0h1m4 0h1M199 496h1m22 0h1m2 0h1m6 0h1m2 0h1m9 0h1m9 0h1m2 0h1m4 0h1m1 0h1m1 0h1M229 497h1m12 0h1m1 0h1m1 0h1m1 0h2m1 0h3m1 0h1m3 0h1m2 0h1m3 0h1m2 0h1m6 0h1M199 498h1m25 0h2m3 0h1m9 0h2m5 0h1m1 0h1m2 0h2m1 0h2m1 0h1m1 0h1m6 0h1m9 0h2M199 499h1m23 0h1m3 0h1m14 0h1m1 0h4m4 0h1m1 0h1m3 0h1m1 0h1m1 0h6m9 0h1M199 500h1m22 0h1m2 0h2m10 0h1m2 0h1m1 0h1m1 0h2m1 0h1m5 0h4m1 0h1m2 0h2m2 0h1m5 0h1M200 501h1m22 0h1m1 0h1m12 0h1m1 0h1m2 0h2m2 0h1m5 0h1m3 0h2m2 0h1m7 0h2m3 0h1m1 0h1m4 0h1M225 502h1m4 0h2m6 0h2m4 0h2m1 0h3m5 0h1m1 0h1m5 0h1m2 0h3m2 0h1m8 0h1m1 0h1M226 503h1m4 0h1m6 0h1m1 0h1m1 0h2m19 0h1m5 0h1m2 0h2M226 504h1m2 0h1m7 0h1m4 0h3m2 0h1m7 0h1m7 0h1m1 0h1M241 505h1m2 0h2m16 0h1m1 0h3m2 0h1m6 0h1M199 506h3m21 0h4m1 0h1m8 0h2m1 0h2m1 0h1m3 0h1m18 0h1m1 0h1m2 0h2m3 0h1m1 0h1m6 0h1M199 507h1m1 0h1m22 0h7m3 0h2m3 0h1m9 0h1m14 0h2m3 0h1m1 0h1m3 0h4m5 0h1M229 508h1m3 0h2m4 0h1m4 0h1m21 0h2m1 0h1m1 0h1m1 0h3m2 0h1M199 509h1m23 0h2m1 0h1m1 0h1m5 0h1m4 0h1m2 0h1m14 0h1m3 0h1m1 0h1m1 0h2m1 0h1m3 0h1m1 0h1M199 510h1m2 0h1m18 0h1m1 0h1m1 0h2m3 0h1m3 0h1m4 0h1m1 0h1m23 0h1m3 0h2m1 0h1M199 511h1m23 0h1m1 0h1m11 0h1m2 0h1m3 0h1m19 0h3m1 0h1m8 0h1m4 0h1M199 512h2m22 0h1m7 0h1m3 0h1m1 0h1m3 0h2m24 0h1m1 0h1m1 0h1m1 0h1M199 513h1m2 0h1m18 0h2m2 0h1m4 0h1m2 0h1m2 0h1m3 0h2m1 0h1m3 0h1m14 0h1m1 0h2m5 0h1m4 0h2M199 514h1m20 0h1m4 0h1m2 0h2m1 0h1m9 0h2m16 0h1m3 0h2m1 0h1m1 0h1m8 0h1M201 515h1m2 0h1m27 0h1m6 0h1m2 0h1m1 0h1m1 0h1m1 0h1m13 0h1m1 0h1m6 0h1m1 0h1m1 0h1m1 0h1m6 0h1M223 516h1m1 0h2m2 0h1m12 0h3m1 0h4m6 0h2m5 0h2m1 0h1m3 0h1M199 517h1m1 0h1m22 0h1m3 0h1m3 0h1m9 0h1m1 0h2m1 0h1m4 0h1m1 0h2m3 0h1m2 0h1m9 0h1M97 536h1m5 0h1m42 0h1m3 0h1m2 0h1m12 0h1M114 537h1m23 0h1m6 0h1m3 0h1m8 0h1M91 538h1m27 0h1m22 0h2m2 0h1m14 0h1m4 0h1M104 539h1m16 0h1m9 0h1m1 0h1m1 0h1m22 0h1m10 0h1M90 540h2m20 0h1m8 0h1m18 0h2m21 0h1M131 541h1m10 0h1m10 0h2m2 0h1m3 0h1M86 542h1m7 0h1m14 0h1m25 0h1m20 0h1m1 0h3M112 543h1m20 0h1m1 0h1m3 0h1m8 0h2m2 0h1m2 0h2m1 0h1m4 0h1M108 544h1m11 0h1m8 0h1m7 0h1m3 0h1m1 0h2m3 0h1m1 0h2m1 0h1m7 0h2m4 0h1M106 545h1m20 0h1m5 0h1m2 0h1m8 0h1m3 0h1m3 0h2m4 0h1m2 0h2m2 0h1M92 546h1m7 0h1m1 0h1m15 0h1m12 0h1m3 0h1m2 0h1m3 0h1m5 0h1m6 0h2m1 0h2m1 0h1M97 547h1m24 0h1m4 0h1m1 0h1m7 0h1m1 0h1m1 0h2m6 0h1m3 0h2m1 0h1m4 0h1m2 0h2M102 548h1m9 0h2m2 0h2m1 0h2m7 0h1m5 0h1m6 0h2m3 0h1m1 0h1m1 0h1m2 0h1m1 0h2m4 0h7M82 549h1m25 0h1m13 0h1m1 0h1m5 0h1m2 0h2m2 0h1m3 0h2m1 0h2m2 0h1m4 0h4m1 0h1m1 0h1m5 0h1M103 550h1m2 0h2m4 0h1m6 0h1m4 0h1m12 0h1m2 0h1m1 0h1m1 0h5m3 0h1m3 0h2m6 0h1m1 0h1m1 0h1M88 551h1m9 0h1m5 0h1m2 0h1m3 0h1m2 0h2m2 0h2m10 0h1m4 0h1m1 0h1m3 0h1m3 0h1m4 0h1m2 0h1m1 0h2m4 0h1M103 552h1m3 0h1m4 0h1m2 0h1m7 0h1m2 0h1m1 0h1m1 0h1m3 0h3m4 0h1m3 0h2m1 0h1m1 0h1m3 0h1m6 0h1m2 0h1m3 0h2M101 553h1m7 0h1m6 0h1m3 0h1m5 0h1m3 0h1m2 0h3m1 0h1m2 0h1m1 0h1m2 0h2m3 0h1m1 0h1m6 0h2m3 0h2m1 0h2M99 554h1m9 0h2m5 0h2m15 0h1m1 0h2m1 0h1m12 0h1m14 0h2M101 555h1m9 0h1m7 0h1m2 0h1m4 0h2m2 0h1m3 0h1m1 0h2m1 0h1m1 0h1m1 0h1m5 0h2m4 0h1m1 0h1m4 0h1m1 0h2m1 0h2M86 556h1m8 0h1m22 0h1m1 0h2m6 0h2m3 0h1m4 0h1m2 0h1m1 0h1m1 0h5m17 0h1m1 0h1M95 557h1m4 0h1m5 0h2m3 0h1m7 0h1m4 0h2m1 0h1m1 0h1m4 0h2m3 0h2m3 0h2m4 0h2m12 0h1m1 0h1M103 558h1m15 0h1m2 0h5m4 0h3m1 0h5m1 0h4m6 0h1m14 0h1M100 559h1m1 0h2m2 0h2m8 0h1m2 0h2m10 0h1m2 0h1m4 0h1m7 0h1m3 0h1M91 560h1m7 0h1m5 0h2m6 0h3m2 0h2m1 0h1m3 0h1m1 0h2m2 0h1m1 0h4m10 0h1m16 0h1m2 0h2M92 561h1m9 0h1m1 0h1m2 0h1m4 0h1m2 0h2m1 0h1m2 0h1m1 0h2m2 0h1m6 0h1m1 0h1m4 0h1m2 0h3m18 0h1M93 562h1m7 0h1m6 0h1m2 0h2m3 0h1m2 0h8m1 0h1m1 0h1m4 0h2m1 0h1m2 0h1m6 0h1M85 563h2m10 0h1m10 0h3m1 0h1m5 0h1m2 0h2m3 0h1m2 0h3m1 0h2m3 0h1m1 0h3m22 0h1m1 0h1m1 0h1M83 564h1m22 0h4m3 0h1m2 0h2m4 0h1m3 0h1m1 0h3m1 0h1m7 0h2m5 0h1m19 0h1M82 565h1m7 0h1m5 0h1m1 0h2m7 0h1m1 0h3m3 0h1m3 0h1m1 0h1m3 0h1m4 0h2m3 0h1m2 0h1m4 0h1m1 0h1m21 0h1m1 0h1M94 566h1m4 0h1m11 0h1m1 0h1m2 0h1m3 0h4m1 0h2m6 0h2m3 0h1m27 0h1m1 0h1M88 567h2m11 0h1m10 0h1m5 0h2m1 0h1m1 0h3m1 0h1m3 0h2m1 0h1m2 0h2m26 0h2m1 0h1M85 568h1m3 0h1m8 0h3m1 0h2m7 0h1m1 0h2m1 0h1m1 0h1m1 0h1m6 0h1m5 0h2m2 0h3M88 569h1m5 0h2m1 0h1m6 0h1m5 0h2m1 0h1m4 0h2m4 0h1m3 0h2m1 0h1m2 0h1m29 0h1m1 0h1m1 0h2M86 570h2m8 0h1m6 0h2m1 0h1m1 0h3m1 0h2m1 0h4m4 0h1m1 0h1m1 0h3m1 0h2m1 0h1m3 0h1m27 0h1M87 571h1m3 0h4m6 0h1m1 0h1m1 0h1m1 0h1m2 0h1m1 0h1m4 0h4m1 0h1m7 0h1m32 0h1M85 572h2m8 0h3m6 0h2m3 0h1m4 0h2m1 0h1m7 0h1m11 0h2m29 0h1M85 573h1m1 0h1m1 0h1m2 0h2m6 0h1m1 0h3m5 0h1m1 0h3m2 0h1m2 0h1m2 0h1m1 0h2m8 0h1m6 0h1m22 0h3M92 574h4m6 0h6m3 0h1m6 0h2m3 0h1m6 0h1m2 0h1m26 0h1m3 0h3m2 0h1M85 575h2m2 0h1m3 0h2m4 0h1m1 0h5m1 0h1m1 0h3m2 0h2m2 0h1m3 0h1m1 0h1m5 0h1m2 0h2m28 0h2m1 0h1m1 0h2M84 576h1m4 0h1m1 0h3m2 0h1m4 0h3m1 0h4m1 0h1m8 0h1m2 0h1m1 0h1m41 0h1m2 0h1M82 577h2m1 0h1m6 0h4m2 0h1m1 0h1m2 0h1m2 0h1m1 0h2m3 0h2m1 0h1m2 0h1m2 0h1m2 0h2m6 0h1m5 0h1m24 0h1m1 0h1m2 0h1M82 578h1m3 0h1m1 0h1m1 0h3m4 0h1m5 0h2m3 0h1m9 0h1m9 0h1m2 0h2m1 0h1m33 0h1M84 579h1m4 0h1m5 0h1m5 0h2m1 0h4m1 0h6m28 0h1m19 0h2m4 0h1M83 580h5m2 0h1m3 0h3m6 0h1m4 0h2m1 0h1m7 0h1m6 0h1m2 0h1m31 0h1m5 0h3M82 581h2m1 0h1m4 0h1m2 0h1m3 0h1m2 0h1m4 0h2m1 0h1m52 0h1m1 0h1m1 0h1m1 0h1M82 582h1m1 0h4m3 0h1m1 0h2m5 0h1m23 0h1m8 0h1m2 0h1m1 0h1m22 0h1m3 0h3m1 0h1M84 583h1m1 0h2m1 0h1m2 0h3m2 0h1m4 0h2m1 0h1m13 0h1m6 0h1m28 0h1m6 0h1m5 0h1M83 584h2m2 0h2m1 0h2m1 0h1m13 0h2m7 0h1m51 0h1M83 585h2m2 0h4m7 0h1m6 0h1m2 0h1m11 0h1m5 0h1m6 0h1m1 0h1m20 0h1m1 0h2m1 0h1m1 0h2m1 0h1M82 586h1m2 0h1m10 0h1m1 0h1m10 0h1m9 0h1m20 0h1m13 0h1m3 0h2m2 0h4m3 0h1M83 587h2m4 0h1m1 0h2m47 0h1m17 0h1m2 0h1m4 0h1m2 0h1M83 588h1m1 0h1m1 0h1m2 0h2m25 0h1m14 0h2m6 0h1m1 0h1m2 0h1m15 0h3m2 0h1m1 0h2M85 589h1m3 0h2m4 0h1m17 0h1m6 0h1m6 0h1m6 0h1m2 0h1m3 0h1m1 0h2m5 0h2m4 0h1m1 0h3m2 0h2m1 0h1m1 0h1M82 590h1m12 0h1m29 0h1m10 0h2m2 0h1m1 0h2m3 0h1m3 0h1m1 0h2m2 0h3m2 0h2m2 0h1M85 591h1m36 0h1m1 0h1m7 0h1m2 0h1m6 0h1m2 0h1m8 0h1m2 0h1m2 0h1m1 0h1m1 0h1m1 0h1m1 0h1M85 592h1m49 0h2m1 0h1m3 0h1m7 0h1m3 0h1m2 0h3m1 0h1m1 0h1m3 0h1M82 593h3m4 0h1m2 0h1m31 0h1m4 0h1m2 0h1m1 0h1m2 0h2m2 0h1m2 0h1m1 0h1m3 0h1m2 0h1m2 0h1m1 0h1m2 0h6M83 594h1m3 0h1m34 0h1m9 0h1m3 0h1m6 0h1m5 0h1m1 0h1m1 0h3m2 0h3m1 0h2m1 0h1M138 595h1m5 0h2m3 0h1m1 0h1m1 0h2m3 0h1m4 0h1m3 0h1m1 0h1M86 596h1m41 0h1m7 0h1m11 0h1m1 0h2m3 0h1m1 0h2m10 0h1M82 597h1m1 0h1m50 0h1m5 0h1m7 0h1m1 0h1m2 0h1m4 0h1m1 0h1m1 0h1M82 598h1m40 0h1m5 0h1m6 0h1m7 0h1m2 0h1m3 0h2m1 0h1m4 0h1m2 0h1m2 0h2m2 0h1M116 599h1m7 0h1m1 0h1m2 0h1m1 0h2m1 0h3m2 0h1m2 0h1m2 0h1m1 0h2m2 0h5m1 0h1m1 0h2m1 0h2m2 0h2m1 0h1M115 600h1m1 0h1m2 0h1m5 0h2m4 0h1m5 0h1m1 0h1m5 0h1m1 0h1m1 0h2m2 0h2m2 0h1m4 0h3m1 0h1M82 601h1m44 0h2m1 0h1m1 0h1m1 0h1m2 0h1m1 0h3m2 0h1m2 0h2m7 0h2m2 0h1m3 0h1m2 0h1M119 602h1m1 0h2m2 0h2m2 0h2m5 0h1m3 0h1m2 0h2m3 0h1m2 0h6m8 0h1M82 603h1m38 0h1m7 0h1m1 0h1m1 0h1m2 0h2m1 0h1m1 0h1m4 0h2m7 0h1m1 0h2m9 0h1M115 604h1m2 0h1m7 0h1m1 0h1m4 0h1m1 0h1m1 0h1m2 0h2m2 0h1m4 0h1m1 0h2m2 0h4m5 0h2M115 605h1m2 0h1m1 0h1m10 0h1m1 0h1m5 0h2m3 0h3m3 0h2m2 0h1m2 0h1m3 0h1m2 0h1m2 0h1M117 606h1m3 0h1m6 0h1m1 0h2m2 0h1m2 0h2m2 0h1m2 0h5m1 0h1m2 0h1m1 0h1m1 0h1m1 0h1m3 0h2m4 0h1M114 607h1m2 0h1m4 0h1m1 0h2m1 0h1m2 0h3m4 0h3m2 0h1m1 0h1m1 0h1m1 0h5m5 0h1m4 0h1m3 0h2M124 608h1m2 0h1m6 0h1m2 0h3m3 0h1m1 0h1m2 0h1m4 0h1m1 0h1M110 609h1m5 0h1m1 0h1m1 0h4m1 0h2m2 0h3m1 0h1m2 0h1m1 0h1m1 0h1m3 0h2m2 0h1m3 0h2m5 0h1m2 0h1m2 0h3m1 0h1M114 610h1m5 0h2m1 0h1m1 0h1m3 0h1m2 0h3m4 0h1m1 0h2m1 0h1m3 0h2m1 0h2m8 0h4M111 611h1m3 0h1m1 0h1m3 0h1m3 0h2m4 0h2m7 0h3m6 0h2m5 0h3m2 0h1m5 0h2M112 612h1m1 0h1m2 0h2m2 0h3m2 0h1m2 0h1m1 0h2m1 0h1m1 0h1m1 0h3m2 0h1m13 0h1m1 0h1m2 0h1m1 0h1M107 613h1m2 0h2m2 0h1m1 0h1m1 0h2m1 0h1m2 0h1m6 0h3m1 0h2m4 0h1m2 0h3m1 0h3m1 0h1m7 0h2m1 0h3M111 614h3m1 0h2m4 0h1m2 0h1m1 0h2m3 0h3m1 0h3m4 0h1m3 0h1m2 0h2m3 0h2m2 0h2M109 615h1m2 0h1m1 0h1m1 0h1m2 0h1m1 0h1m6 0h1m1 0h3m4 0h1m1 0h1m1 0h3m3 0h1m1 0h1m2 0h1m2 0h2M107 616h1m3 0h2m2 0h3m1 0h3m1 0h1m2 0h1m2 0h2m4 0h1m2 0h1m1 0h1m5 0h2m3 0h1m3 0h1m1 0h1m2 0h1m2 0h1M106 617h1m4 0h1m1 0h1m6 0h3m2 0h1m2 0h1m1 0h1m2 0h1m2 0h2m8 0h1m2 0h1m2 0h1m15 0h1M104 618h1m1 0h2m3 0h1m1 0h1m1 0h2m1 0h2m2 0h2m2 0h1m3 0h1m1 0h1m1 0h1m1 0h3m8 0h3m5 0h1m6 0h1M103 619h1m2 0h1m1 0h2m2 0h1m5 0h2m1 0h1m3 0h3m3 0h1m1 0h1m3 0h2m2 0h1m5 0h1m4 0h2m1 0h1m2 0h1M110 620h1m2 0h1m2 0h1m5 0h3m1 0h1m3 0h1m2 0h7m1 0h1m2 0h1m3 0h1m3 0h1M199 537h1m1 0h1m11 0h1m1 0h2m3 0h1m5 0h1m4 0h1m2 0h1m11 0h1m10 0h1m2 0h1m7 0h1M210 538h1m32 0h1m7 0h1m1 0h1m3 0h1m5 0h1m4 0h1m5 0h1m6 0h1m2 0h1M205 539h1m1 0h1m26 0h1m14 0h1m1 0h1m3 0h2m9 0h1m11 0h1M209 540h1m22 0h1m2 0h1m6 0h1m4 0h1m2 0h1m19 0h1m1 0h1m1 0h1M214 541h1m6 0h1m38 0h2m4 0h1m8 0h1m2 0h1m4 0h1M238 542h1m12 0h1m6 0h1m1 0h1m19 0h1M204 543h1m29 0h1m11 0h1m10 0h1m2 0h1m4 0h1m10 0h1m6 0h1M258 544h1m3 0h1m6 0h1m3 0h1m7 0h1m1 0h2M211 545h1m3 0h2m7 0h1m10 0h1m3 0h1m23 0h2m1 0h1m5 0h1m2 0h1m5 0h1m3 0h1M208 546h1m5 0h1m4 0h1m10 0h1m3 0h1m4 0h1m7 0h1m14 0h1m2 0h2m12 0h1M251 547h1m6 0h1m1 0h2m1 0h1m3 0h1m1 0h1m8 0h2m1 0h2M199 548h1m3 0h1m56 0h1m2 0h1m1 0h2m3 0h2m11 0h1m1 0h1M213 549h1m8 0h1m4 0h1m5 0h1m7 0h1m13 0h1m3 0h1m1 0h2m2 0h1m2 0h1m3 0h1m2 0h1m5 0h1M210 550h1m9 0h1m13 0h1m5 0h1m10 0h1m4 0h1m6 0h1m2 0h5m12 0h1M205 551h1m9 0h1m11 0h1m14 0h1m9 0h1m1 0h3m1 0h3m3 0h2m4 0h3m10 0h1M202 552h2m8 0h1m3 0h1m3 0h1m2 0h1m2 0h1m29 0h2m9 0h2m7 0h5m1 0h1m1 0h2M231 553h1m6 0h1m7 0h1m3 0h1m4 0h1m1 0h3m3 0h1m2 0h5m1 0h4m2 0h1m1 0h2m1 0h1m1 0h1M207 554h1m8 0h1m2 0h2m30 0h1m1 0h1m1 0h2m3 0h4m2 0h2m1 0h3m1 0h1m4 0h1m1 0h1m1 0h2M207 555h1m2 0h1m1 0h1m8 0h1m18 0h1m4 0h1m9 0h1m1 0h1m5 0h1m1 0h2m4 0h2m1 0h1m3 0h2m1 0h2m2 0h1M204 556h2m10 0h2m6 0h1m12 0h1m6 0h1m2 0h2m5 0h1m1 0h1m2 0h3m5 0h2m1 0h1m1 0h3m2 0h1m1 0h1m3 0h3M199 557h1m9 0h1m16 0h1m5 0h1m1 0h1m17 0h1m1 0h1m2 0h2m3 0h1m1 0h1m2 0h1m3 0h2m1 0h2m3 0h1m1 0h1m2 0h2M231 558h1m6 0h2m5 0h1m2 0h1m5 0h1m4 0h2m4 0h5m4 0h4m1 0h1m2 0h1m2 0h1M224 559h1m2 0h1m17 0h1m1 0h1m1 0h1m3 0h1m8 0h1m1 0h1m1 0h1m2 0h2m1 0h2m1 0h1m3 0h3M204 560h1m23 0h1m4 0h1m1 0h1m2 0h1m8 0h1m1 0h1m5 0h1m12 0h1m7 0h1m5 0h1m1 0h1M206 561h1m15 0h1m1 0h1m15 0h2m1 0h4m3 0h1m2 0h1m13 0h2m1 0h2m1 0h3m1 0h2m2 0h2m1 0h1M223 562h1m6 0h2m7 0h1m2 0h1m3 0h1m6 0h1m12 0h1m4 0h1m2 0h2m3 0h1m1 0h2M213 563h1m7 0h1m27 0h1m1 0h1m3 0h1m9 0h1m2 0h1m2 0h1m1 0h1m4 0h1m1 0h1m2 0h1m1 0h1M209 564h1m9 0h1m29 0h3m4 0h2m2 0h1m11 0h1m4 0h1m1 0h2m2 0h3M205 565h1m12 0h1m2 0h1m1 0h2m8 0h1m1 0h1m2 0h1m2 0h1m2 0h2m1 0h2m3 0h2m19 0h3m2 0h1M210 566h1m9 0h1m3 0h1m1 0h1m1 0h1m2 0h1m8 0h4m3 0h1m7 0h1m15 0h1m1 0h2m2 0h1M210 567h1m2 0h1m6 0h1m1 0h1m3 0h1m1 0h1m5 0h2m3 0h2m1 0h1m2 0h1m2 0h2m1 0h1m20 0h1m1 0h1m1 0h2m1 0h1M209 568h1m11 0h1m2 0h1m6 0h1m3 0h1m1 0h2m2 0h1m3 0h1m1 0h2m25 0h2m3 0h2M207 569h1m2 0h1m7 0h1m3 0h1m2 0h1m4 0h1m1 0h1m5 0h1m6 0h1m2 0h3m21 0h1m1 0h1m1 0h1M205 570h1m7 0h2m1 0h1m1 0h1m1 0h5m3 0h1m2 0h1m4 0h1m1 0h1m3 0h3m5 0h1m21 0h1m4 0h1M199 571h1m8 0h1m8 0h1m2 0h1m1 0h3m2 0h2m1 0h2m6 0h1m3 0h1m1 0h1m1 0h1m26 0h3m5 0h2m2 0h1M199 572h1m9 0h3m1 0h1m2 0h2m5 0h2m1 0h1m1 0h1m4 0h1m4 0h3m3 0h1m1 0h1m1 0h1m2 0h1m19 0h1m2 0h1m1 0h1m2 0h1m2 0h1M210 573h1m1 0h1m2 0h1m1 0h4m8 0h1m2 0h1m1 0h2m9 0h5m18 0h1m4 0h1m6 0h2M208 574h1m7 0h1m3 0h3m2 0h1m6 0h1m10 0h2m2 0h1m5 0h1m15 0h2m1 0h1m4 0h1m6 0h1M212 575h1m4 0h2m2 0h1m6 0h4m10 0h1m1 0h1m2 0h1m21 0h3m1 0h1m1 0h3m5 0h1M209 576h1m1 0h2m4 0h2m1 0h1m2 0h1m3 0h3m1 0h2m4 0h1m1 0h1m6 0h1m19 0h1m3 0h5m5 0h1m3 0h1M202 577h1m2 0h1m2 0h2m4 0h2m5 0h1m5 0h1m5 0h1m1 0h1m5 0h1m3 0h1m2 0h1m19 0h1m1 0h5M206 578h2m2 0h1m2 0h1m3 0h1m10 0h1m4 0h1m1 0h2m5 0h5m21 0h1m1 0h1m2 0h3m1 0h1m7 0h1M212 579h1m1 0h1m10 0h1m5 0h2m6 0h1m1 0h1m2 0h1m1 0h1m3 0h1m16 0h3m5 0h1m2 0h2M201 580h1m1 0h1m4 0h2m2 0h1m10 0h1m7 0h1m7 0h2m3 0h1m20 0h1m2 0h1m1 0h2M206 581h1m1 0h2m1 0h1m1 0h1m16 0h1m2 0h1m2 0h2m3 0h2m2 0h1m4 0h1m15 0h1m1 0h1m1 0h2m2 0h1M200 582h2m7 0h1m1 0h1m21 0h3m2 0h1m2 0h1m2 0h4m3 0h1m9 0h1m2 0h1m3 0h2m6 0h1m1 0h1M205 583h1m2 0h1m1 0h1m1 0h1m19 0h1m1 0h1m1 0h6m7 0h1m1 0h1m11 0h2m3 0h2m7 0h1M209 584h1m33 0h2m17 0h1m1 0h1m18 0h1M206 585h4m23 0h1m7 0h1m4 0h3m5 0h1m5 0h1m5 0h1m5 0h1M207 586h2m1 0h2m19 0h1m2 0h1m6 0h1m11 0h1m1 0h2m2 0h1m1 0h1m1 0h1m3 0h1m8 0h2m2 0h1M200 587h1m7 0h1m2 0h1m25 0h1m1 0h1m1 0h2m1 0h3m1 0h2m1 0h1m3 0h3m3 0h1m3 0h1m2 0h2m11 0h1M202 588h1m3 0h1m3 0h1m20 0h1m4 0h2m6 0h3m2 0h1m6 0h2m2 0h1m2 0h1m6 0h1m1 0h1m12 0h1M203 589h4m29 0h1m2 0h4m1 0h1m1 0h1m1 0h4m5 0h1m1 0h1m2 0h1m20 0h1M202 590h4m2 0h1m24 0h1m9 0h4m4 0h1m3 0h1m4 0h1m1 0h1m1 0h1m2 0h1M206 591h2m25 0h1m4 0h2m1 0h1m9 0h1m8 0h1m2 0h2m1 0h1m8 0h1m3 0h1M203 592h2m31 0h3m1 0h1m8 0h4m3 0h4m6 0h1m11 0h1M202 593h1m2 0h1m31 0h2m1 0h1m8 0h4m1 0h1m1 0h1m3 0h3m4 0h1m1 0h1m3 0h1M199 594h2m1 0h1m31 0h1m2 0h1m6 0h1m2 0h1m5 0h2m1 0h1m2 0h1m1 0h1m4 0h1m1 0h1m15 0h2M203 595h1m31 0h1m2 0h1m2 0h1m6 0h1m7 0h2m4 0h2m1 0h1m19 0h1M233 596h4m3 0h1m1 0h1m2 0h1m5 0h1m1 0h2m1 0h1m3 0h5m18 0h2M199 597h1m1 0h2m1 0h1m25 0h1m1 0h2m1 0h4m4 0h1m2 0h1m1 0h1m2 0h2m1 0h4m2 0h2m2 0h1m3 0h2m4 0h1M201 598h1m32 0h2m4 0h2m3 0h1m3 0h1m2 0h3m6 0h3m1 0h1m2 0h1M201 599h1m32 0h1m2 0h1m8 0h1m5 0h1m2 0h3m1 0h1m1 0h4m2 0h1m5 0h1M200 600h1m26 0h1m2 0h3m8 0h1m1 0h1m7 0h2m2 0h1m2 0h1m2 0h1m1 0h1m1 0h2m3 0h1M200 601h3m27 0h1m3 0h2m5 0h1m1 0h3m2 0h3m3 0h2m2 0h3m3 0h3m1 0h1m3 0h1m6 0h1m2 0h1M202 602h1m30 0h1m1 0h1m1 0h1m5 0h1m4 0h1m2 0h2m4 0h3m2 0h1m2 0h1m2 0h1m2 0h1m4 0h1M199 603h1m1 0h2m29 0h3m1 0h1m8 0h2m5 0h1m1 0h2m1 0h2m1 0h2m1 0h1m5 0h1m10 0h1M202 604h1m27 0h5m2 0h1m1 0h1m7 0h2m1 0h6m1 0h3m1 0h1m2 0h2m5 0h2m1 0h1m4 0h1M231 605h1m1 0h1m5 0h1m1 0h1m2 0h2m3 0h5m1 0h1m1 0h1m2 0h2m3 0h1m2 0h1m1 0h1m8 0h1M200 606h1m30 0h1m1 0h1m1 0h2m1 0h1m9 0h1m3 0h1m8 0h2m2 0h4m4 0h1m9 0h1M226 607h1m4 0h2m14 0h1m3 0h1m19 0h1m1 0h2m8 0h1M202 608h1m26 0h1m3 0h1m1 0h1m6 0h3m2 0h2m1 0h1m4 0h2m10 0h1m1 0h2m2 0h1m2 0h1m2 0h1M199 609h1m27 0h3m3 0h1m2 0h1m4 0h1m2 0h1m1 0h5m16 0h3m1 0h1M227 610h1m1 0h1m1 0h4m2 0h1m7 0h5m16 0h1m1 0h1m1 0h1m2 0h1m4 0h1M227 611h2m13 0h2m9 0h1m12 0h2m1 0h1m1 0h2m6 0h1m1 0h1m3 0h1M227 612h2m6 0h1m2 0h1m4 0h1m4 0h1m18 0h1m1 0h2m1 0h1m1 0h1m3 0h1m2 0h1M199 613h1m26 0h3m6 0h1m7 0h1m23 0h1m3 0h1m1 0h1m9 0h2M229 614h3m7 0h2m1 0h2m1 0h1m1 0h1m20 0h1m1 0h2m12 0h1M224 615h1m3 0h1m1 0h2m6 0h1m7 0h1m21 0h1m2 0h1m2 0h1m3 0h1M224 616h2m1 0h1m2 0h3m5 0h1m5 0h1m3 0h1m2 0h1m19 0h2m1 0h1m5 0h1m3 0h1M222 617h1m3 0h1m3 0h1m2 0h1m2 0h1m4 0h3m1 0h1m2 0h1m16 0h1m4 0h1m2 0h1m1 0h1m1 0h1M200 618h2m30 0h1m11 0h1m1 0h2m19 0h1m1 0h1m2 0h2m1 0h1m3 0h1M221 619h1m1 0h1m1 0h3m6 0h1m8 0h6m14 0h1m2 0h2m1 0h3m1 0h1M200 620h1m22 0h1m1 0h4m1 0h1m7 0h1m4 0h1m2 0h3m13 0h1m3 0h1m1 0h2"/><path stroke="#585858" d="M142 443h1m1 0h1M143 444h1m18 0h1m4 0h1M157 445h1M132 446h1m11 0h1m5 0h1m8 0h1M162 447h1m2 0h1M145 448h1m16 0h1M153 449h1m1 0h1m3 0h1m1 0h1M129 450h1m28 0h1m1 0h2m4 0h2M140 451h1m8 0h1m6 0h1m2 0h1m1 0h2M132 452h1m18 0h1m3 0h3m1 0h2m1 0h4M136 453h1m3 0h1m5 0h1m2 0h1m3 0h1m3 0h1m1 0h1m1 0h2m3 0h1M140 454h1m1 0h1m1 0h1m7 0h1m1 0h1m1 0h1m4 0h1m4 0h1M127 455h1m15 0h2m4 0h1m1 0h1m2 0h3m8 0h1M131 456h1m14 0h1m1 0h2m1 0h1m14 0h2M134 457h1m12 0h2m3 0h1m11 0h4M117 458h1m22 0h1m1 0h2m8 0h2m8 0h2m1 0h1m1 0h2M124 459h1m15 0h1m2 0h3m1 0h1m1 0h3m12 0h2m1 0h2M126 460h1m1 0h1m4 0h1m6 0h2m2 0h2m2 0h2m1 0h1m12 0h1m1 0h1M136 461h1m2 0h1m4 0h2m1 0h1m2 0h1m1 0h1m11 0h1m1 0h2M127 462h1m2 0h1m2 0h3m1 0h1m1 0h1m5 0h1m2 0h1m1 0h2m15 0h1M112 463h1m10 0h1m5 0h1m7 0h1m3 0h2m3 0h4m13 0h1m3 0h1M131 464h1m3 0h1m3 0h3m7 0h1m15 0h1M110 465h1m24 0h1m4 0h2m1 0h1m4 0h1m15 0h1M119 466h1m9 0h4m2 0h2m1 0h1m1 0h2m4 0h1M103 467h1m11 0h2m3 0h1m4 0h1m1 0h1m9 0h1m1 0h1m1 0h2m3 0h2m19 0h1M102 468h1m2 0h1m14 0h3m3 0h1m5 0h1m1 0h2m1 0h2m1 0h1m2 0h1m21 0h2M122 469h1m1 0h2m1 0h1m1 0h1m1 0h4m3 0h1m1 0h1m2 0h2m1 0h1m17 0h1m2 0h1M114 470h1m4 0h1m2 0h1m4 0h1m2 0h1m1 0h3m1 0h1m1 0h1m4 0h2m1 0h2m2 0h1m12 0h1m1 0h1M105 471h1m5 0h1m1 0h1m3 0h1m1 0h2m1 0h1m2 0h4m2 0h2m1 0h2m3 0h1m25 0h2M113 472h1m2 0h1m4 0h1m1 0h1m4 0h1m13 0h2m2 0h1m15 0h7M101 473h1m4 0h1m9 0h1m2 0h1m1 0h2m3 0h1m1 0h2m5 0h1m1 0h2m3 0h1m2 0h1m16 0h1m1 0h1m1 0h1M90 474h1m10 0h1m5 0h1m7 0h1m1 0h2m2 0h3m1 0h2m1 0h1m1 0h1m1 0h1m2 0h1m1 0h2m1 0h2m3 0h1m19 0h1M108 475h1m1 0h1m2 0h1m8 0h3m1 0h1m4 0h3m1 0h1m1 0h1m1 0h2m1 0h1m2 0h1m1 0h1m14 0h2M94 476h1m9 0h1m2 0h1m9 0h1m10 0h1m4 0h1m6 0h1m3 0h2m15 0h1m1 0h2m1 0h1m1 0h1M104 477h1m2 0h1m1 0h4m1 0h1m1 0h2m1 0h2m1 0h1m3 0h1m2 0h1m1 0h1m3 0h1m2 0h1m2 0h3m3 0h1m12 0h1m4 0h1m2 0h1M98 478h1m11 0h1m3 0h2m2 0h2m3 0h1m2 0h1m7 0h1m1 0h1m2 0h2m3 0h1m17 0h3M96 479h1m3 0h1m2 0h2m6 0h1m1 0h1m3 0h1m1 0h1m1 0h1m2 0h1m8 0h3m2 0h1m1 0h1m1 0h1m11 0h1m3 0h3m4 0h1M83 480h1m6 0h1m8 0h1m1 0h1m5 0h1m1 0h1m3 0h1m1 0h1m3 0h1m2 0h2m3 0h1m4 0h1m3 0h2m1 0h1m2 0h2m9 0h1m6 0h2M94 481h1m6 0h1m1 0h3m3 0h1m3 0h2m3 0h1m1 0h2m3 0h1m5 0h2m4 0h1m5 0h2m11 0h2m1 0h2m1 0h1M84 482h1m12 0h1m1 0h1m1 0h1m2 0h4m3 0h2m2 0h1m2 0h2m2 0h2m4 0h1m5 0h2m4 0h2m13 0h1m6 0h2m1 0h1M94 483h1m1 0h1m7 0h4m2 0h1m1 0h4m5 0h1m1 0h2m1 0h1m2 0h1m1 0h1m7 0h1m4 0h1m4 0h1m4 0h1m1 0h1m1 0h1m1 0h3m3 0h2M88 484h1m1 0h1m8 0h1m1 0h1m2 0h1m4 0h1m1 0h1m1 0h1m1 0h1m2 0h1m4 0h1m2 0h3m3 0h1m6 0h1m1 0h4m8 0h1m1 0h1m2 0h1m3 0h1m4 0h2M86 485h1m2 0h1m1 0h2m2 0h1m1 0h1m4 0h1m2 0h1m2 0h1m9 0h2m1 0h1m5 0h1m1 0h2m1 0h2m1 0h1m2 0h1m1 0h6m3 0h2m2 0h1m2 0h1m1 0h1m3 0h2M87 486h1m3 0h1m4 0h3m4 0h1m3 0h1m2 0h1m5 0h3m2 0h1m1 0h2m1 0h1m2 0h3m8 0h1m2 0h3m1 0h2m1 0h1m1 0h1m4 0h3m1 0h1m4 0h1M97 487h1m3 0h1m4 0h3m1 0h2m1 0h1m1 0h2m4 0h1m3 0h1m1 0h1m6 0h1m1 0h3m6 0h2m8 0h1m1 0h1m3 0h1m3 0h1M90 488h1m1 0h1m2 0h1m1 0h2m1 0h5m5 0h5m4 0h1m1 0h3m1 0h2m1 0h1m2 0h1m1 0h1m4 0h1m1 0h1m1 0h1m7 0h1m1 0h1m3 0h1m6 0h1m2 0h1M87 489h3m2 0h2m4 0h2m5 0h2m4 0h1m1 0h2m7 0h1m5 0h1m4 0h1m2 0h2m2 0h2m2 0h1m2 0h1m2 0h2m2 0h2m2 0h1m1 0h2m3 0h1M87 490h2m1 0h1m1 0h1m3 0h3m2 0h1m2 0h1m15 0h1m1 0h1m1 0h1m2 0h2m2 0h1m2 0h3m3 0h4m3 0h1m2 0h1m1 0h3M84 491h1m2 0h1m3 0h3m2 0h3m1 0h1m1 0h1m6 0h2m2 0h3m4 0h1m1 0h1m2 0h2m5 0h2m1 0h2m2 0h2m4 0h1m3 0h3m1 0h3m4 0h1m1 0h3M84 492h1m1 0h1m2 0h1m3 0h4m14 0h1m5 0h1m6 0h1m1 0h1m4 0h1m4 0h2m9 0h1m2 0h1m1 0h1m3 0h1m11 0h1M91 493h1m2 0h1m4 0h1m1 0h1m8 0h1m1 0h1m1 0h1m4 0h2m9 0h1m1 0h4m1 0h2m1 0h3m7 0h1m7 0h1M87 494h1m1 0h1m2 0h2m1 0h1m16 0h1m2 0h3m1 0h1m2 0h1m1 0h1m2 0h2m1 0h1m1 0h1m3 0h4m2 0h2m1 0h3m1 0h1m1 0h1M84 495h1m1 0h2m1 0h1m1 0h2m10 0h1m10 0h1m5 0h2m1 0h1m10 0h1m2 0h2m1 0h1m1 0h1m4 0h1m1 0h3M85 496h2m1 0h1m7 0h1m13 0h1m6 0h1m4 0h1m1 0h1m1 0h3m2 0h2m4 0h1m2 0h2m5 0h1m1 0h2M83 497h2m33 0h1m2 0h1m1 0h2m1 0h1m1 0h2m2 0h2m5 0h1m3 0h2m8 0h1m5 0h1M82 498h2m1 0h3m1 0h1m20 0h1m4 0h1m6 0h2m2 0h1m2 0h1m1 0h3m4 0h2m2 0h1m3 0h1m19 0h1M87 499h1m25 0h1m1 0h1m2 0h1m1 0h2m1 0h1m2 0h1m3 0h1m3 0h1m1 0h2m2 0h5m2 0h3M82 500h2m1 0h3m1 0h1m26 0h2m1 0h1m3 0h2m1 0h1m5 0h1m3 0h2m3 0h6m1 0h1m1 0h1m7 0h2m1 0h2M86 501h1m1 0h1m1 0h1m24 0h1m2 0h1m5 0h1m5 0h2m5 0h1m1 0h1m3 0h1m2 0h1m9 0h1M84 502h1m1 0h1m1 0h1m25 0h2m2 0h2m1 0h1m2 0h2m4 0h1m2 0h1m3 0h1m1 0h2m1 0h2m1 0h1m9 0h2m1 0h1m5 0h1M111 503h1m3 0h1m2 0h7m5 0h1m1 0h1m3 0h1m1 0h2m6 0h1m2 0h1m4 0h1m12 0h1M82 504h1m1 0h1m30 0h2m1 0h1m5 0h1m2 0h1m1 0h2m1 0h2m1 0h2m1 0h2m2 0h1m4 0h1M86 505h1m29 0h1m2 0h1m2 0h2m2 0h1m2 0h2m1 0h1m1 0h2m1 0h1m9 0h1m2 0h1m3 0h1M88 506h1m23 0h3m1 0h2m1 0h1m3 0h1m3 0h1m10 0h1m8 0h1m4 0h1m1 0h1m1 0h1M83 507h2m28 0h1m1 0h1m2 0h1m1 0h2m2 0h1m1 0h2m2 0h1m7 0h2m1 0h1m2 0h2m3 0h1m1 0h1m6 0h2M84 508h1m25 0h2m1 0h1m1 0h2m2 0h3m1 0h5m1 0h1m1 0h1m3 0h1m6 0h1m1 0h1m6 0h1M82 509h2m1 0h1m3 0h1m22 0h1m4 0h1m1 0h2m2 0h1m1 0h1m2 0h1m4 0h1m4 0h2m9 0h2m1 0h1m1 0h1m6 0h1M82 510h2m29 0h4m4 0h1m3 0h2m21 0h1m6 0h2m6 0h1M84 511h2m23 0h2m2 0h1m1 0h1m2 0h2m1 0h3m1 0h1m1 0h1m3 0h1m3 0h1m3 0h1m5 0h1m9 0h1m1 0h1M108 512h3m1 0h3m3 0h1m11 0h1m1 0h1m14 0h1M84 513h1m2 0h1m19 0h2m1 0h1m1 0h1m2 0h1m4 0h1m2 0h1m7 0h1M82 514h1m20 0h1m2 0h1m1 0h1m2 0h1m1 0h1m11 0h1M84 515h3m21 0h2m1 0h1m1 0h1m1 0h1m9 0h2m2 0h1m7 0h2M85 516h2m15 0h2m2 0h2m2 0h4m6 0h1M83 517h1m2 0h1m2 0h1m5 0h1m6 0h1m3 0h1m5 0h1m2 0h1m1 0h1m2 0h1m3 0h1m3 0h1m7 0h1M83 518h2m2 0h2m3 0h2m3 0h3m1 0h1m1 0h1m2 0h2m1 0h1m6 0h1m2 0h1m1 0h1m19 0h1M275 433h1m5 0h1M277 434h1m2 0h1M277 436h1M249 437h1m24 0h1m3 0h1m5 0h1M276 438h1m7 0h1M279 439h2m2 0h1M266 440h1m6 0h1M266 441h1m3 0h1m6 0h1m5 0h1M270 442h1m3 0h2m3 0h2m1 0h1m1 0h2M270 443h1m2 0h1m3 0h1m1 0h1m2 0h1M268 444h1m2 0h1m2 0h1m3 0h1m4 0h1M206 445h1m55 0h1m1 0h1m3 0h1m1 0h1m1 0h1m4 0h1m5 0h1m1 0h1M267 446h2m2 0h1m5 0h3m4 0h1M268 447h2m3 0h1m1 0h1m1 0h2m1 0h1m2 0h1m1 0h1M266 448h1m2 0h2m6 0h2m5 0h1M266 449h1m1 0h1m1 0h1m1 0h2m6 0h1m3 0h2M259 450h1m6 0h1m1 0h2m1 0h2M258 451h2m3 0h4m1 0h1m1 0h2m1 0h1m1 0h2m1 0h3m1 0h1m2 0h1M259 452h1m4 0h2m3 0h1m1 0h1m11 0h1m1 0h1M239 453h1m15 0h1m3 0h1m2 0h1m3 0h2m1 0h3m3 0h3M249 454h1m8 0h1m4 0h1m3 0h1m1 0h1m1 0h1m1 0h1m2 0h1M257 455h1m7 0h1m2 0h1m1 0h2m1 0h1m1 0h2M252 456h1m7 0h3m1 0h1m2 0h2m1 0h1m1 0h1m2 0h1m5 0h1M253 457h1m1 0h1m1 0h1m1 0h1m4 0h3m10 0h1m1 0h1M248 458h1m3 0h3m1 0h1m1 0h2m2 0h1m7 0h1m2 0h1M212 459h1m15 0h1m13 0h1m1 0h1m3 0h1m9 0h2m5 0h1m2 0h3m5 0h1M227 460h1m12 0h1m3 0h1m4 0h1m3 0h1m1 0h1m2 0h3m3 0h1m1 0h2m5 0h1m6 0h1M237 461h1m1 0h1m5 0h1m2 0h1m1 0h1m1 0h2m2 0h1m1 0h2m3 0h4m3 0h1M220 462h1m19 0h1m3 0h1m2 0h1m2 0h1m3 0h2m1 0h2m1 0h2m3 0h2M205 463h1m5 0h1m1 0h1m7 0h2m3 0h1m3 0h1m9 0h1m2 0h1m8 0h1m3 0h2m4 0h1m3 0h1m1 0h1M208 464h1m2 0h1m3 0h1m3 0h2m1 0h2m1 0h1m2 0h1m5 0h1m2 0h1m8 0h2m3 0h1m1 0h2m1 0h2m1 0h1m4 0h3m1 0h1M211 465h1m1 0h1m11 0h1m4 0h2m2 0h1m1 0h2m1 0h1m2 0h1m1 0h1m1 0h1m1 0h1m3 0h1m6 0h1m2 0h1m1 0h1m1 0h1m1 0h1M210 466h1m4 0h1m2 0h2m1 0h2m18 0h3m1 0h1m1 0h2m3 0h2m1 0h1m1 0h2m6 0h1M205 467h1m14 0h1m4 0h2m7 0h1m2 0h1m2 0h2m10 0h4m1 0h1m2 0h1m1 0h1m2 0h1m2 0h1M204 468h1m1 0h3m6 0h2m3 0h3m3 0h2m1 0h1m7 0h1m1 0h1m1 0h1m3 0h2m2 0h1m3 0h1m2 0h2m4 0h1M206 469h1m3 0h1m2 0h1m4 0h2m2 0h1m2 0h1m3 0h3m1 0h4m2 0h1m1 0h1m2 0h1m2 0h1m1 0h1m1 0h1m6 0h1M203 470h1m2 0h1m2 0h1m2 0h2m5 0h1m2 0h1m2 0h1m1 0h1m4 0h2m4 0h1m4 0h1m1 0h1m5 0h1m1 0h1m1 0h1m2 0h1m3 0h2M208 471h1m6 0h3m1 0h1m2 0h3m5 0h1m1 0h1m1 0h2m4 0h3m3 0h2m1 0h2m1 0h3m5 0h1M201 472h2m1 0h3m4 0h1m5 0h1m4 0h1m2 0h1m5 0h3m4 0h1m1 0h1m11 0h1m2 0h3M205 473h1m1 0h1m3 0h1m8 0h1m6 0h2m2 0h1m1 0h1m4 0h1m1 0h1m2 0h1M205 474h2m9 0h1m4 0h6m1 0h3m8 0h1m1 0h2m1 0h1m3 0h2M201 475h1m6 0h1m2 0h2m2 0h1m5 0h1m1 0h2m2 0h1m2 0h2m1 0h2m2 0h1m2 0h1m1 0h1m1 0h1m1 0h1m5 0h1m17 0h1M202 476h1m3 0h1m1 0h2m5 0h1m10 0h1m2 0h1m3 0h1m3 0h1m7 0h1M203 477h1m16 0h2m3 0h1m1 0h3m1 0h1m17 0h2m11 0h2M202 478h1m1 0h1m8 0h1m5 0h2m7 0h6m7 0h1m2 0h1M199 479h1m2 0h2m2 0h1m17 0h1m3 0h2m3 0h2m1 0h1m1 0h2M199 480h3m1 0h3m16 0h1m1 0h5m2 0h4m4 0h1m3 0h1m15 0h1M206 481h1m10 0h2m2 0h1m1 0h3m3 0h1m6 0h4m3 0h2m13 0h1M202 482h1m19 0h1m4 0h1m5 0h1m6 0h1M201 483h1m17 0h1m4 0h4m4 0h1m2 0h1m2 0h2m12 0h1m7 0h1m2 0h1M199 484h1m1 0h1m21 0h1m2 0h4m8 0h1m2 0h1m15 0h1M200 485h2m18 0h5m1 0h2m1 0h1m13 0h1m16 0h1M200 486h1m2 0h1m15 0h1m7 0h1m9 0h1M200 487h3m18 0h3m1 0h1m1 0h1m2 0h3m25 0h2M222 488h1m14 0h1M199 489h1m2 0h1m17 0h1m2 0h2m11 0h1M200 490h2m4 0h1m13 0h1m1 0h1m4 0h1m27 0h1m2 0h1M200 491h3m18 0h1m3 0h1m7 0h1m19 0h1m8 0h1M221 492h1m4 0h1m24 0h1m4 0h1m5 0h1M218 493h1m2 0h1m2 0h1m2 0h1m26 0h2m1 0h1m4 0h1M201 494h1m1 0h1m14 0h1m2 0h1M199 495h1m1 0h1m18 0h1m1 0h1m27 0h1m10 0h1M200 496h1m20 0h1m1 0h1m2 0h1m34 0h1M200 497h1m2 0h1m15 0h1m2 0h1m2 0h1m2 0h1m21 0h1m6 0h2m1 0h1M200 498h3m20 0h1m24 0h1m5 0h1m4 0h1M200 499h1m21 0h1m14 0h1m5 0h1m5 0h3m3 0h1m1 0h1m3 0h1M200 500h1m1 0h1m21 0h1m24 0h1m1 0h2m4 0h1m1 0h1m8 0h1m3 0h1M202 501h1m17 0h3m1 0h1m23 0h4m2 0h3m3 0h1m1 0h1M201 502h1m20 0h1m6 0h1m16 0h1m4 0h3m2 0h1m2 0h1M200 503h3m18 0h1m1 0h3m3 0h1m14 0h1m1 0h2m4 0h3m3 0h1m1 0h1m4 0h1M199 504h1m21 0h2m1 0h2m1 0h1m13 0h1m4 0h1m2 0h1m1 0h2m5 0h1m1 0h1m1 0h1m1 0h1m4 0h1m1 0h1M200 505h2m19 0h3m2 0h1m13 0h1m1 0h2m3 0h1m10 0h1m2 0h1m1 0h1M221 506h1m23 0h1m5 0h1m2 0h1m1 0h2m2 0h1m1 0h1m1 0h2m1 0h1M202 507h1m37 0h1m1 0h2m2 0h1m5 0h1m3 0h1m6 0h1m3 0h1m2 0h1M202 508h1m22 0h1m12 0h1m1 0h1m4 0h1m16 0h3M201 509h1m1 0h2m14 0h1m1 0h2m2 0h1m7 0h1m4 0h1m2 0h1m1 0h2m2 0h2m3 0h1m9 0h1m1 0h1m2 0h1M201 510h1m2 0h1m15 0h1m1 0h1m1 0h1m17 0h1m1 0h1m1 0h1m9 0h1m2 0h6m3 0h1M201 511h2m15 0h2m1 0h2m1 0h1m1 0h1m12 0h1m1 0h3m1 0h1m6 0h1m3 0h1m5 0h2M201 512h1m18 0h2m2 0h1m1 0h1m13 0h1m2 0h1m1 0h1m2 0h3m1 0h1m2 0h1m2 0h5m1 0h1M200 513h2m18 0h1m3 0h1m2 0h1m14 0h1m1 0h2m6 0h2m4 0h2m1 0h1m1 0h1m2 0h1M200 514h2m8 0h1m10 0h1m1 0h2m14 0h1m4 0h1m1 0h2m2 0h1m4 0h1m4 0h1m1 0h1m2 0h1M199 515h1m3 0h1m2 0h1m15 0h1m1 0h3m18 0h1m3 0h1m4 0h4m2 0h2m1 0h1m4 0h1M202 516h1m16 0h1m1 0h2m1 0h1m20 0h1m4 0h1m1 0h2m4 0h2m2 0h1m4 0h2M202 517h2m15 0h1m1 0h1m26 0h2m3 0h1m2 0h1m3 0h1M150 537h1M149 542h1M124 543h1m26 0h1M146 545h1m13 0h1m4 0h1M137 546h1m24 0h1m1 0h1M151 547h2M149 548h1m4 0h1m5 0h1M118 549h1m7 0h1m23 0h1m11 0h1M149 550h1m1 0h1m6 0h5M149 551h1m1 0h2m1 0h1m2 0h4m2 0h3M143 552h2m2 0h1m1 0h1m2 0h2m2 0h5m4 0h1M141 553h1m7 0h1m5 0h2m4 0h2M130 554h1m1 0h1m6 0h1m3 0h1m3 0h1m7 0h1m2 0h2m2 0h2M120 555h1m11 0h1m1 0h1m10 0h5m5 0h1m3 0h1m1 0h1m2 0h1M100 556h1m15 0h1m8 0h1m1 0h1m3 0h1m3 0h1m8 0h1m6 0h1m2 0h2m1 0h2m7 0h1M136 557h1m1 0h1m2 0h1m1 0h1m2 0h2m4 0h1m1 0h1m1 0h1m6 0h1M129 558h1m15 0h2m1 0h3m3 0h2m2 0h1m5 0h2m3 0h1M117 559h1m3 0h1m11 0h1m2 0h1m1 0h1m1 0h6m2 0h3m2 0h1m10 0h1m2 0h1M126 560h1m2 0h1m8 0h1m1 0h1m1 0h2m4 0h2m15 0h1M114 561h1m5 0h1m4 0h1m6 0h1m2 0h1m1 0h3m26 0h3M117 562h1m19 0h1m2 0h1m1 0h2m1 0h1m3 0h1m13 0h3M128 563h1m3 0h1m2 0h1m1 0h1m1 0h1m3 0h6m15 0h1M119 564h1m4 0h2m1 0h1m3 0h1m2 0h2m3 0h1m2 0h1m2 0h2m17 0h1m1 0h1m1 0h2M103 565h1m9 0h1m6 0h1m5 0h4m7 0h1m1 0h3m2 0h1m1 0h1m17 0h2m2 0h1M112 566h1m6 0h1m10 0h3m3 0h2m2 0h2m1 0h1m2 0h1m16 0h1m5 0h1M94 567h1m34 0h2m2 0h1m1 0h1m4 0h1m1 0h2m1 0h1m17 0h2m2 0h1m1 0h1M93 568h1m23 0h1m1 0h1m1 0h1m1 0h2m3 0h3m1 0h1m7 0h1m1 0h1m1 0h1m22 0h1M112 569h1m2 0h3m2 0h3m4 0h1m2 0h1m1 0h1m2 0h1m1 0h4m2 0h1m17 0h3m1 0h1M101 570h1m9 0h1m2 0h1m4 0h1m2 0h1m7 0h1m2 0h1m2 0h2m1 0h1m1 0h4m19 0h1m2 0h1M106 571h1m6 0h2m1 0h1m6 0h1m2 0h4m1 0h1m2 0h1m1 0h1m2 0h2m21 0h1m1 0h4M98 572h1m11 0h1m2 0h1m2 0h1m2 0h2m1 0h3m1 0h2m5 0h1m1 0h1m3 0h2m22 0h1m1 0h1m1 0h1M107 573h3m1 0h1m9 0h1m6 0h2m1 0h1m1 0h1m2 0h1m4 0h1m17 0h1m2 0h1m1 0h1m3 0h2M96 574h1m12 0h2m6 0h1m2 0h3m4 0h1m6 0h3m1 0h1m2 0h1m1 0h1m17 0h1m1 0h1m4 0h1M106 575h1m6 0h1m3 0h1m2 0h2m1 0h1m1 0h1m5 0h2m4 0h1m2 0h3m22 0h1m1 0h1M98 576h1m1 0h1m8 0h1m3 0h2m1 0h1m3 0h2m1 0h1m2 0h1m2 0h2m1 0h2m3 0h1m1 0h1m1 0h1m18 0h3M87 577h1m2 0h1m8 0h1m4 0h1m5 0h1m1 0h1m2 0h1m1 0h2m2 0h1m1 0h2m2 0h1m1 0h1m1 0h2m1 0h1m2 0h1m2 0h1m1 0h1m2 0h1m12 0h1m2 0h3M89 578h1m4 0h1m1 0h1m1 0h1m1 0h2m4 0h2m1 0h5m3 0h1m1 0h2m2 0h2m2 0h1m1 0h2m2 0h1m2 0h1m3 0h5m14 0h1m1 0h2m2 0h3m1 0h1M86 579h1m7 0h1m1 0h3m1 0h1m2 0h1m11 0h1m1 0h1m1 0h1m3 0h3m1 0h1m1 0h1m1 0h1m5 0h1m2 0h1m18 0h2m4 0h3M91 580h1m1 0h1m4 0h1m1 0h1m3 0h1m1 0h2m2 0h1m2 0h1m4 0h1m1 0h1m1 0h3m7 0h3m1 0h2m7 0h1m13 0h2m1 0h1m1 0h1m1 0h1M88 581h1m5 0h3m1 0h1m2 0h2m6 0h1m1 0h1m1 0h2m2 0h3m1 0h1m3 0h1m4 0h3m2 0h3m3 0h1m17 0h2m1 0h1m1 0h1m1 0h1m2 0h1M89 582h2m1 0h1m4 0h2m2 0h5m3 0h1m1 0h1m4 0h1m1 0h2m2 0h1m3 0h1m1 0h3m4 0h1m3 0h1m17 0h4m1 0h1M82 583h1m5 0h1m1 0h1m4 0h1m3 0h2m5 0h5m2 0h1m1 0h1m1 0h2m1 0h2m1 0h1m3 0h2m1 0h3m2 0h1m1 0h1m3 0h1m16 0h2m1 0h1m1 0h1m2 0h1M86 584h1m5 0h1m1 0h1m2 0h1m1 0h4m1 0h1m1 0h1m2 0h3m3 0h1m1 0h1m2 0h1m1 0h1m4 0h1m1 0h2m5 0h2m1 0h1m4 0h1m9 0h1m1 0h3m1 0h2m1 0h1m2 0h2M85 585h2m4 0h2m1 0h4m1 0h4m4 0h1m4 0h1m3 0h1m2 0h1m11 0h1m6 0h2m1 0h2m9 0h1m4 0h1m2 0h1m1 0h1m2 0h1m1 0h2M83 586h1m2 0h2m4 0h2m1 0h1m1 0h1m2 0h2m1 0h1m2 0h1m3 0h2m2 0h2m4 0h2m4 0h1m3 0h4m2 0h1m4 0h1m4 0h2m4 0h1m4 0h1m2 0h2m4 0h1M85 587h4m4 0h1m3 0h1m1 0h1m3 0h2m1 0h1m3 0h1m1 0h1m1 0h1m1 0h1m6 0h2m3 0h1m2 0h1m3 0h1m1 0h2m3 0h1m2 0h1m11 0h1m1 0h1m4 0h1m2 0h1M86 588h1m1 0h1m3 0h1m4 0h1m13 0h1m4 0h1m6 0h1m10 0h1m1 0h1m4 0h1m1 0h1m3 0h1m2 0h2m1 0h5m1 0h1m4 0h1M82 589h2m2 0h2m5 0h1m6 0h1m2 0h1m1 0h1m2 0h1m12 0h1m1 0h1m7 0h1m1 0h1m8 0h1m2 0h1m1 0h1m1 0h1m2 0h1m1 0h1m6 0h2m2 0h1M86 590h2m3 0h1m1 0h1m15 0h1m5 0h1m3 0h1m2 0h2m3 0h1m18 0h1m2 0h1m5 0h2m3 0h2M84 591h1m2 0h3m5 0h1m17 0h1m1 0h1m5 0h1m3 0h1m2 0h1m2 0h1m1 0h2m1 0h2m2 0h1m3 0h1m4 0h1m1 0h2m5 0h1m4 0h1m1 0h1m1 0h1M82 592h2m2 0h5m3 0h1m13 0h1m3 0h1m2 0h1m5 0h5m5 0h1m1 0h2m5 0h1m2 0h3m1 0h3m1 0h2m2 0h1m4 0h1m1 0h1M85 593h1m4 0h2m23 0h1m2 0h1m8 0h1m2 0h1m4 0h2m3 0h1m1 0h1m4 0h2m2 0h1m2 0h2M82 594h1m1 0h2m32 0h4m2 0h1m1 0h1m1 0h4m1 0h1m1 0h1m1 0h1m1 0h1m1 0h1m2 0h5m18 0h1M83 595h1m1 0h2m1 0h1m1 0h1m19 0h1m1 0h3m1 0h1m1 0h1m9 0h4m1 0h5m2 0h4m2 0h1m3 0h1m1 0h1m12 0h1M82 596h3m2 0h1m4 0h1m24 0h1m2 0h6m3 0h3m1 0h2m3 0h5m1 0h1m2 0h1m1 0h1m4 0h1m4 0h1M83 597h1m1 0h2m24 0h1m7 0h1m1 0h1m3 0h5m1 0h4m1 0h2m1 0h1m2 0h2m2 0h3m1 0h1m4 0h1m9 0h1M89 598h1m27 0h4m3 0h1m3 0h1m2 0h1m1 0h2m2 0h5m1 0h1m1 0h1m3 0h1m3 0h1m1 0h3M110 599h1m11 0h2m1 0h1m1 0h2m1 0h1m2 0h1m3 0h1m3 0h1m1 0h1m2 0h1m2 0h1m18 0h1M83 600h1m1 0h2m29 0h1m4 0h1m3 0h1m2 0h1m2 0h1m1 0h2m2 0h1m1 0h1m2 0h2m1 0h1m6 0h2m5 0h1M83 601h1m4 0h1m19 0h1m2 0h1m1 0h2m1 0h2m3 0h2m6 0h1m1 0h1m1 0h1m1 0h1m2 0h1m3 0h1m2 0h1m3 0h5M82 602h1m29 0h1m1 0h1m8 0h1m3 0h1m3 0h2m1 0h1m2 0h1m1 0h1m2 0h1m7 0h1m11 0h1M83 603h1m29 0h1m4 0h3m1 0h1m1 0h1m3 0h1m1 0h1m4 0h1m2 0h1m1 0h1m1 0h3m4 0h1m1 0h1m2 0h1m1 0h1M84 604h1m32 0h1m2 0h1m3 0h2m6 0h1m1 0h1m1 0h1m1 0h2m2 0h2m4 0h1m13 0h1M83 605h2m31 0h2m3 0h2m1 0h4m4 0h1m1 0h1m3 0h1m2 0h1m1 0h1m3 0h1m5 0h1M84 606h1m25 0h1m2 0h4m2 0h2m1 0h1m2 0h1m1 0h1m4 0h2m9 0h1m8 0h1m15 0h1M83 607h1m1 0h1m22 0h1m3 0h2m2 0h1m1 0h1m1 0h2m1 0h1m2 0h1m1 0h1m4 0h3m4 0h1m6 0h1m11 0h1M83 608h1m25 0h4m5 0h2m1 0h1m1 0h1m4 0h3m1 0h2m8 0h1m8 0h1M82 609h1m28 0h3m1 0h1m1 0h1m1 0h1m4 0h1m3 0h1m3 0h1m1 0h1m4 0h1m3 0h1m2 0h2M111 610h1m3 0h2m1 0h1m3 0h1m3 0h3m2 0h1m3 0h1m7 0h1m11 0h1m4 0h1M82 611h1m1 0h1m22 0h1m1 0h2m1 0h2m2 0h1m1 0h1m1 0h1m1 0h2m4 0h1m1 0h1m3 0h2m3 0h1m4 0h1m20 0h1M106 612h1m1 0h2m1 0h1m3 0h2m2 0h2m3 0h1m16 0h1m3 0h1m1 0h1M83 613h1m28 0h2m1 0h1m4 0h1m6 0h1m2 0h1m8 0h2m1 0h1M104 614h1m4 0h2m3 0h1m3 0h3m2 0h1m1 0h1m2 0h3m9 0h1M86 615h1m17 0h2m4 0h2m6 0h1m1 0h1m1 0h2m2 0h1m31 0h1M105 616h2m2 0h1m12 0h1m21 0h2M85 617h1m8 0h1m8 0h1m4 0h1m1 0h1m1 0h1m11 0h1m16 0h1m17 0h1M84 618h1m4 0h1m13 0h1m4 0h3m6 0h1m3 0h1m6 0h1M83 619h2m5 0h1m5 0h1m1 0h1m3 0h1m21 0h1m4 0h1M84 620h1m5 0h2m1 0h1m7 0h1m1 0h1m2 0h2m4 0h1m5 0h1M203 539h1m69 0h1M260 545h1m8 0h1m13 0h1M280 546h1M270 547h1m12 0h1M259 548h1m2 0h1m15 0h1M223 549h1m36 0h1m3 0h1m1 0h1M271 550h1m1 0h2M266 552h1m3 0h1m1 0h2M265 554h1m2 0h1m3 0h1m3 0h1M252 555h1m3 0h1m1 0h5m1 0h1m2 0h1m1 0h1m3 0h1m2 0h2m2 0h1M257 556h1m4 0h1m1 0h2m5 0h1m3 0h1M261 557h1m1 0h1m1 0h2m2 0h2m2 0h1m2 0h1m1 0h1m1 0h1M252 558h2m1 0h2m4 0h4m5 0h2M248 559h1m5 0h7m4 0h1m1 0h2m13 0h1M253 560h1m2 0h1m1 0h1m1 0h3m1 0h3m2 0h3m1 0h2M254 561h1m1 0h1m4 0h1m2 0h1m1 0h1m5 0h1m6 0h1M252 562h1m8 0h3m3 0h4m1 0h2m2 0h1M224 563h1m25 0h1m2 0h2m1 0h1m12 0h2m1 0h1m2 0h3m1 0h1m2 0h1M203 564h1m48 0h4m2 0h1m9 0h1m1 0h2m1 0h1m1 0h2M249 565h2m4 0h1m1 0h1m5 0h1m1 0h2m2 0h2m1 0h1m3 0h1m2 0h1m2 0h1M248 566h4m1 0h1m3 0h1m8 0h2m4 0h1m3 0h1M246 567h1m3 0h1m3 0h1m2 0h2m10 0h2m4 0h1M228 568h1m17 0h1m4 0h1m1 0h1m1 0h1m9 0h2m2 0h1m1 0h3M226 569h4m14 0h1m6 0h2m15 0h1m1 0h1m2 0h1m5 0h1M219 570h1m5 0h1m4 0h1m10 0h1m3 0h1m1 0h3m1 0h1m17 0h1m3 0h1m4 0h1M219 571h1m5 0h2m14 0h1m3 0h1m1 0h1m2 0h3m12 0h2m4 0h1m6 0h1M220 572h2m5 0h1m17 0h1m4 0h1m1 0h1m10 0h1m3 0h1m1 0h1m14 0h1M209 573h1m6 0h1m5 0h2m4 0h1m14 0h1m6 0h1m1 0h1m12 0h1m4 0h1m5 0h1M212 574h1m1 0h1m2 0h1m1 0h1m3 0h1m2 0h2m2 0h2m2 0h1m10 0h2m2 0h2m9 0h1m1 0h2m7 0h1M214 575h1m1 0h1m8 0h3m7 0h1m7 0h1m2 0h1m1 0h1m2 0h1m1 0h1m13 0h2m3 0h1M215 576h1m3 0h1m1 0h2m1 0h1m5 0h1m13 0h1m2 0h2m2 0h1m8 0h1m4 0h1m1 0h2m7 0h1M211 577h1m1 0h1m2 0h2m2 0h1m2 0h2m1 0h1m1 0h1m2 0h1m2 0h1m1 0h1m5 0h2m2 0h2m2 0h1m16 0h1M209 578h1m1 0h1m2 0h3m1 0h1m2 0h1m1 0h1m2 0h1m4 0h2m1 0h1m12 0h2m1 0h2m1 0h1m12 0h1m2 0h1m1 0h1M206 579h1m3 0h1m2 0h1m1 0h1m1 0h1m1 0h1m1 0h1m1 0h1m4 0h3m2 0h1m1 0h1m6 0h1m2 0h1m13 0h1m1 0h2m1 0h1m7 0h1M210 580h2m1 0h1m3 0h1m1 0h1m8 0h1m1 0h1m1 0h2m7 0h1m1 0h1m1 0h3m12 0h1m2 0h1m2 0h2m1 0h1M210 581h1m1 0h1m9 0h2m1 0h1m2 0h2m1 0h1m2 0h2m2 0h1m5 0h1m3 0h1m6 0h1m6 0h2m1 0h1m3 0h1M214 582h1m1 0h1m6 0h1m1 0h2m1 0h1m3 0h1m4 0h1m4 0h1m5 0h1m1 0h1m4 0h1m9 0h1m1 0h1M211 583h1m1 0h2m1 0h1m2 0h1m9 0h3m1 0h1m9 0h1m1 0h1m1 0h1m5 0h1m1 0h1m3 0h1m5 0h1m1 0h1M210 584h1m2 0h2m4 0h1m1 0h1m1 0h1m2 0h1m3 0h4m2 0h1m3 0h1m4 0h2m1 0h1m1 0h2m1 0h1m1 0h1m1 0h2m4 0h1m1 0h1M211 585h1m1 0h2m11 0h1m7 0h1m4 0h1m4 0h2m9 0h1m2 0h1m3 0h2m1 0h1M205 586h1m22 0h2m3 0h1m1 0h2m9 0h1m1 0h1m2 0h1m2 0h1m3 0h1m3 0h1M209 587h1m2 0h2m1 0h1m14 0h1m1 0h1m1 0h1m1 0h1m6 0h1m6 0h1m1 0h2m5 0h1m2 0h2M208 588h2m2 0h1m4 0h1m4 0h1m7 0h1m1 0h1m1 0h2m11 0h1m2 0h2m6 0h1m5 0h1m1 0h1M202 589h1m4 0h3m12 0h1m5 0h1m1 0h1m2 0h2m17 0h2m1 0h1m4 0h1M206 590h2m2 0h2m2 0h1m16 0h1m5 0h1m10 0h1m3 0h3m1 0h2m1 0h1M204 591h2m2 0h1m2 0h1m1 0h1m9 0h1m5 0h2m1 0h1m4 0h1m7 0h1m2 0h1m1 0h1m1 0h1m1 0h1m1 0h4m2 0h1M202 592h1m2 0h1m1 0h1m3 0h1m13 0h1m2 0h1m1 0h1m1 0h4m19 0h1m4 0h2M203 593h2m1 0h1m20 0h1m2 0h3m1 0h2m17 0h1m5 0h1m3 0h1M203 594h1m1 0h3m8 0h1m10 0h2m3 0h1m2 0h1m13 0h1m5 0h1m1 0h2m3 0h1m1 0h1M205 595h3m8 0h1m11 0h1m1 0h1m2 0h2m1 0h1m13 0h4m1 0h1m4 0h1M200 596h2m1 0h3m18 0h1m3 0h3m1 0h1m6 0h1m12 0h1m5 0h2m7 0h1m3 0h1M200 597h1m4 0h1m7 0h1m7 0h1m5 0h1m1 0h1m19 0h1m3 0h1m4 0h1M202 598h1m25 0h1m1 0h3m22 0h1M200 599h1m1 0h3m23 0h1m1 0h1m1 0h2m24 0h1M203 600h1m29 0h3m17 0h2m2 0h1m4 0h1M199 601h1m5 0h1m17 0h1m2 0h1m4 0h3m18 0h2m2 0h2m3 0h1M200 602h1m2 0h1m19 0h1m4 0h2m6 0h1m16 0h2m1 0h1m3 0h1m2 0h1M200 603h1m26 0h1m1 0h3m21 0h1m2 0h1m5 0h1m2 0h1m2 0h1M199 604h1m1 0h1m26 0h1m27 0h1m3 0h1m1 0h2m2 0h1M202 605h3m22 0h2m25 0h1m1 0h1m1 0h1m3 0h2m2 0h1M199 606h1m2 0h1m1 0h1m18 0h1m1 0h3m2 0h1m1 0h1m13 0h1m2 0h1m4 0h1m2 0h4m2 0h1m5 0h1M199 607h2m22 0h1m1 0h1m1 0h1m1 0h1m15 0h2m1 0h1m3 0h1m1 0h5m1 0h8M199 608h1m25 0h1m1 0h1m3 0h2m16 0h1m1 0h1m1 0h2m2 0h1m1 0h2m1 0h2m1 0h1m2 0h1M226 609h1m3 0h1m22 0h2m4 0h2m2 0h2m1 0h1M201 610h1m22 0h1m1 0h1m1 0h1m1 0h1m19 0h1m2 0h1m3 0h2m3 0h4m1 0h1m1 0h1M199 611h1m25 0h2m2 0h3m16 0h2m14 0h1M199 612h1m1 0h1m18 0h1m1 0h1m6 0h1m1 0h2m13 0h2m1 0h5m12 0h1m1 0h1m4 0h1M200 613h2m2 0h1m18 0h2m5 0h1m11 0h1m3 0h2m1 0h1m7 0h1m7 0h1m6 0h1M201 614h1m3 0h1m16 0h1m1 0h1m2 0h2m17 0h1m1 0h1m1 0h3m5 0h1m1 0h1m5 0h2m1 0h1m6 0h1M226 615h2m11 0h2m4 0h1m1 0h1m1 0h1m1 0h1m13 0h1m1 0h1m1 0h2M199 616h1m1 0h1m24 0h1m1 0h1m17 0h1m3 0h1m4 0h1m8 0h4m1 0h1m5 0h1M199 617h2m18 0h3m1 0h3m14 0h1m3 0h1m4 0h1m1 0h1m6 0h1m5 0h1m1 0h1m1 0h2M204 618h1m13 0h1m5 0h1m1 0h4m19 0h4m9 0h3m1 0h1m1 0h1m2 0h1M199 619h2m15 0h1m5 0h1m26 0h1m1 0h1m1 0h1m1 0h2m2 0h2m3 0h1m7 0h1m9 0h1M199 620h1m16 0h1m5 0h1m26 0h7m1 0h1m6 0h2m1 0h1"/><path stroke="#000" d="M139 445h1M157 447h1M163 449h1M158 452h1m7 0h1m1 0h1M142 453h1m7 0h1m4 0h2m1 0h1m4 0h2M155 454h1m2 0h3m1 0h1m2 0h1M153 455h1m3 0h8M150 456h1m1 0h13M149 457h1m3 0h11M147 458h1m1 0h3m2 0h8m2 0h1M142 459h1m9 0h12M139 460h1m3 0h1m3 0h1m2 0h1m1 0h12m1 0h1m1 0h1M140 461h1m1 0h1m3 0h1m1 0h1m2 0h1m1 0h11m1 0h1M144 462h1m1 0h1m2 0h1m2 0h15M131 463h2m10 0h1m6 0h13m2 0h2m1 0h1M134 464h1m2 0h1m4 0h1m2 0h2m1 0h1m1 0h14m3 0h1M142 465h1m1 0h3m2 0h15m1 0h2M137 466h1m5 0h1m1 0h1m1 0h20M128 467h1m1 0h1m1 0h2m9 0h2m3 0h17M129 468h1m3 0h1m2 0h1m2 0h1m1 0h2m1 0h3m1 0h17m2 0h1M126 469h1m1 0h1m6 0h1m1 0h1m4 0h1m2 0h1m1 0h17m2 0h1M124 470h2m5 0h1m3 0h1m3 0h4m2 0h1m2 0h2m1 0h12m1 0h1M129 471h1m7 0h1m2 0h3m1 0h20M119 472h1m2 0h1m2 0h1m3 0h1m2 0h1m2 0h7m3 0h1m1 0h15M107 473h1m4 0h1m18 0h1m1 0h2m1 0h1m2 0h3m1 0h2m1 0h16m1 0h1M119 474h1m4 0h1m2 0h1m1 0h1m1 0h1m1 0h2m1 0h1m2 0h1m2 0h3m1 0h16m1 0h2M114 475h5m2 0h1m3 0h1m1 0h4m3 0h1m1 0h1m4 0h1m1 0h2m1 0h1m1 0h14M121 476h2m1 0h1m1 0h1m2 0h1m1 0h2m1 0h6m2 0h2m2 0h15m1 0h1M121 477h1m1 0h3m1 0h1m4 0h3m1 0h2m1 0h2m3 0h3m1 0h12m3 0h1m2 0h1M104 478h1m6 0h1m4 0h1m3 0h1m1 0h1m2 0h1m2 0h5m2 0h1m1 0h2m2 0h3m1 0h17M112 479h1m2 0h2m3 0h1m1 0h2m1 0h1m1 0h6m3 0h2m1 0h1m3 0h11m1 0h3m3 0h1m6 0h1M104 480h1m7 0h1m4 0h1m2 0h2m2 0h2m3 0h3m1 0h3m4 0h2m2 0h9m1 0h6m2 0h1M108 481h1m2 0h1m3 0h2m5 0h3m1 0h5m2 0h2m1 0h1m2 0h1m1 0h2m2 0h11m2 0h1M113 482h1m2 0h2m2 0h2m2 0h4m1 0h5m2 0h4m3 0h12m1 0h3m2 0h1M111 483h1m4 0h1m1 0h3m1 0h1m2 0h1m1 0h2m1 0h1m1 0h3m1 0h3m1 0h4m1 0h1m1 0h2m1 0h4m3 0h1m1 0h1M95 484h1m14 0h1m1 0h1m1 0h1m1 0h2m1 0h4m1 0h2m3 0h1m1 0h1m2 0h3m1 0h1m1 0h1m4 0h8m1 0h1m4 0h1M104 485h1m1 0h2m2 0h8m2 0h1m1 0h2m1 0h2m1 0h1m2 0h1m2 0h1m1 0h2m1 0h1m6 0h3m2 0h2m1 0h1m2 0h1m1 0h1M101 486h2m3 0h1m1 0h2m2 0h4m3 0h2m1 0h1m2 0h1m1 0h2m3 0h7m3 0h1m3 0h1m2 0h1m3 0h3m6 0h1M96 487h1m3 0h1m1 0h3m4 0h1m2 0h1m4 0h4m1 0h3m1 0h1m1 0h6m1 0h1m3 0h1m1 0h4m2 0h8m1 0h1m1 0h1m7 0h1M94 488h1m1 0h1m2 0h1m5 0h5m5 0h4m1 0h1m3 0h1m2 0h1m1 0h2m1 0h1m1 0h4m5 0h3m1 0h2m5 0h1M95 489h3m2 0h5m2 0h4m1 0h1m2 0h4m1 0h2m1 0h1m1 0h1m1 0h1m1 0h4m1 0h2m2 0h2m6 0h1m2 0h1m2 0h1M85 490h1m7 0h2m4 0h2m1 0h2m1 0h15m1 0h1m1 0h1m1 0h2m2 0h2m1 0h2m3 0h1m8 0h1m2 0h1m1 0h1m5 0h1M94 491h2m3 0h1m1 0h1m1 0h6m2 0h2m3 0h3m2 0h1m2 0h1m2 0h5m6 0h1m4 0h1m2 0h1M90 492h2m5 0h14m1 0h5m1 0h3m1 0h2m1 0h1m1 0h4m1 0h4m4 0h2m1 0h1m1 0h2m10 0h1M90 493h1m1 0h2m1 0h4m1 0h1m1 0h8m1 0h1m1 0h1m1 0h4m3 0h5m1 0h1m19 0h1m2 0h1m2 0h1M94 494h1m1 0h16m1 0h2m3 0h1m1 0h2m1 0h1m1 0h2m2 0h1m1 0h1m1 0h3m17 0h1M88 495h1m4 0h10m1 0h10m1 0h5m2 0h1m1 0h5m1 0h1m1 0h2m7 0h1m1 0h1M90 496h6m1 0h13m1 0h6m1 0h4m1 0h1m6 0h1m2 0h1m2 0h1m9 0h1M89 497h2m1 0h26m1 0h1m2 0h1m2 0h1m4 0h1m6 0h1m7 0h1m1 0h1m2 0h1m6 0h1M88 498h1m1 0h20m1 0h4m1 0h4m1 0h1m2 0h1m3 0h1m1 0h1m5 0h1m3 0h1m3 0h1m2 0h2M85 499h1m2 0h1m1 0h23m1 0h1m1 0h2m1 0h1m8 0h1m9 0h1m18 0h1M90 500h26m2 0h1m2 0h2m6 0h1m5 0h1m3 0h1M84 501h1m2 0h1m1 0h1m1 0h24m1 0h2m2 0h2m5 0h1m1 0h1M87 502h1m1 0h25m2 0h2m8 0h1m5 0h1m1 0h1M85 503h26m1 0h2m13 0h2m4 0h2m5 0h1m1 0h1m2 0h1M85 504h30m16 0h1m2 0h1M87 505h29m1 0h2m12 0h1M83 506h1m1 0h1m1 0h1m1 0h23m8 0h1m3 0h1m1 0h1M85 507h27m4 0h1m14 0h2m1 0h1M85 508h25m2 0h1m17 0h1m5 0h1M84 509h1m1 0h3m1 0h19m1 0h2M84 510h25m1 0h1m13 0h1M86 511h23m2 0h2M82 512h26m16 0h2m3 0h1M85 513h2m1 0h19m2 0h1m4 0h1M85 514h1m1 0h16m1 0h2m1 0h1m1 0h1M87 515h21m2 0h1M87 516h15m2 0h2M85 517h1m1 0h2m1 0h5m1 0h6m1 0h3m5 0h1m4 0h1M85 518h2m2 0h3m2 0h3m3 0h1m1 0h1M285 439h1M279 440h2M278 442h1M273 445h2m1 0h1m5 0h1M276 446h1m5 0h1M261 447h1m14 0h1m4 0h1M265 448h1m9 0h1m7 0h1m1 0h1M267 449h1m6 0h1M264 450h1m8 0h1M274 451h1M261 452h1m5 0h1M258 453h1m4 0h1m8 0h1m6 0h1M260 454h1m3 0h2m4 0h1m1 0h1m2 0h1M253 455h3m2 0h1m2 0h2m1 0h1M258 456h1m12 0h1M258 457h1m1 0h2m1 0h1m4 0h1m1 0h2m4 0h1M257 458h1m3 0h1m2 0h1m1 0h2m7 0h1M250 459h1m2 0h2m1 0h2m2 0h1m1 0h2m2 0h2M216 460h2m38 0h1m4 0h2m6 0h1M247 461h1m6 0h1m2 0h1m4 0h1M253 462h1m5 0h1m2 0h3M247 463h1m7 0h1m3 0h1m5 0h1M207 464h1m8 0h1m15 0h1m16 0h1M212 465h1m2 0h1m34 0h1m2 0h2m1 0h1m4 0h1M212 466h1m3 0h1m33 0h2m8 0h1M212 467h3m3 0h2m43 0h1M211 468h1m5 0h1m1 0h1m27 0h1m6 0h1m3 0h1M208 469h1m2 0h2m1 0h4m2 0h1m21 0h2m2 0h1m1 0h1m1 0h1M211 470h1m2 0h5m1 0h2m1 0h2m16 0h1m7 0h1M205 471h1m1 0h1m1 0h6m3 0h1m1 0h2m5 0h2m14 0h1m7 0h1m14 0h1M203 472h1m3 0h4m1 0h5m1 0h1m2 0h1m1 0h2m3 0h1m5 0h1m16 0h1M208 473h3m1 0h8m1 0h4m29 0h1M203 474h2m2 0h9m1 0h4m6 0h1m6 0h1m1 0h1m6 0h1M205 475h3m1 0h2m2 0h2m1 0h5m1 0h1m16 0h1M204 476h1m2 0h1m2 0h5m1 0h10M202 477h1m1 0h16m2 0h3m1 0h1m15 0h1M203 478h1m1 0h8m1 0h5m2 0h3m1 0h1M204 479h2m1 0h17m1 0h1m5 0h1M206 480h16m1 0h1m14 0h1m1 0h1M202 481h1m1 0h2m1 0h10m2 0h2m1 0h1M203 482h19m3 0h1M203 483h16m1 0h1m1 0h1M202 484h20m2 0h2m5 0h1M203 485h17m10 0h1M201 486h2m1 0h15m1 0h3m34 0h1M203 487h18M199 488h1m2 0h20m1 0h1M203 489h16m2 0h1m34 0h1M202 490h4m1 0h13m1 0h1M203 491h18m1 0h1M199 492h3m1 0h18M199 493h1m1 0h17m1 0h2m1 0h1m33 0h1M202 494h1m1 0h14m2 0h1M200 495h1m1 0h18m1 0h1M201 496h20M199 497h1m1 0h2m1 0h15m1 0h2m2 0h1M203 498h20M201 499h21m4 0h1M201 500h1m1 0h19m1 0h1M199 501h1m1 0h1m1 0h17m32 0h1M200 502h1m1 0h20m19 0h1m8 0h1m3 0h1m3 0h1m1 0h1M203 503h18m1 0h1m22 0h1m4 0h2m3 0h3m1 0h1m1 0h1M200 504h21m2 0h1m21 0h1m2 0h1m1 0h1m2 0h2m1 0h2m1 0h1m1 0h1M202 505h19m3 0h1m21 0h1m1 0h10m1 0h2M202 506h19m1 0h1m21 0h1m1 0h1m1 0h3m1 0h2m1 0h1m2 0h2m1 0h1M203 507h21m20 0h2m1 0h2m1 0h2m1 0h3m1 0h6m3 0h1M201 508h1m1 0h21m18 0h2m2 0h16M202 509h1m2 0h14m1 0h1m24 0h2m2 0h3m1 0h4m1 0h3M203 510h1m1 0h15m23 0h1m1 0h1m1 0h9m1 0h2m7 0h1M203 511h15m2 0h1m25 0h6m1 0h3m1 0h4M202 512h18m2 0h1m21 0h1m1 0h2m3 0h1m1 0h2m1 0h2m5 0h1M203 513h17m26 0h1m1 0h4m2 0h4m10 0h1M202 514h8m1 0h9m23 0h1m1 0h1m2 0h2m1 0h4m1 0h3m2 0h1M200 515h1m1 0h1m2 0h1m1 0h15m1 0h1m19 0h1m3 0h1m2 0h4m4 0h2M203 516h16m1 0h1m30 0h1m2 0h2m5 0h1M204 517h15m1 0h1m1 0h1m27 0h2m5 0h2M159 548h1M159 549h1m5 0h1M163 550h1M162 551h1M155 552h1M153 553h1m3 0h2M149 554h1m2 0h3m1 0h2m2 0h2m2 0h1M152 555h3m2 0h1m2 0h1m1 0h1M153 556h1m2 0h1m2 0h7M149 557h1m3 0h1m1 0h1m1 0h6m2 0h1M147 558h1m4 0h2m2 0h2m1 0h5M137 559h1m8 0h1m5 0h1m1 0h10m1 0h1M123 560h1m8 0h1m11 0h2m4 0h14m2 0h1m2 0h1M126 561h1m13 0h1m1 0h2m3 0h18M139 562h1m4 0h1m1 0h2m2 0h13m3 0h1M123 563h1m12 0h1m12 0h15m2 0h1M133 564h1m3 0h2m4 0h2m3 0h16m1 0h1M124 565h1m7 0h1m1 0h1m1 0h1m5 0h1m4 0h17m2 0h1M129 566h1m5 0h1m3 0h1m2 0h1m1 0h2m1 0h16m1 0h2m1 0h1M117 567h1m18 0h1m2 0h1m1 0h1m2 0h1m1 0h17M122 568h1m8 0h1m3 0h2m4 0h1m1 0h1m1 0h20M125 569h1m7 0h1m2 0h1m4 0h2m1 0h17M121 570h1m4 0h1m8 0h1m4 0h1m4 0h19m1 0h1M115 571h1m16 0h2m1 0h1m1 0h2m2 0h21M118 572h1m9 0h4m2 0h1m1 0h1m4 0h22m1 0h1M122 573h1m1 0h1m2 0h1m2 0h1m1 0h1m1 0h1m2 0h2m1 0h1m2 0h16m1 0h2m1 0h1M108 574h1m7 0h1m7 0h3m1 0h2m1 0h2m4 0h1m1 0h2m1 0h1m1 0h16m2 0h1m4 0h1M112 575h1m6 0h1m6 0h4m5 0h2m1 0h2m3 0h20M112 576h1m2 0h1m1 0h1m7 0h1m1 0h2m2 0h1m2 0h3m1 0h1m1 0h1m1 0h18m3 0h2m2 0h1M101 577h1m9 0h1m8 0h1m7 0h1m1 0h1m4 0h2m1 0h1m2 0h1m1 0h2m1 0h12m1 0h2M114 578h2m5 0h2m2 0h2m8 0h1m1 0h3m5 0h14m1 0h1m3 0h1M116 579h1m1 0h1m1 0h3m3 0h1m1 0h1m1 0h1m1 0h5m1 0h2m1 0h2m1 0h15m2 0h2M97 580h1m1 0h1m1 0h1m3 0h1m6 0h1m1 0h2m1 0h1m3 0h1m3 0h1m1 0h2m1 0h2m3 0h1m2 0h7m1 0h13m4 0h1M99 581h1m3 0h1m3 0h1m2 0h1m1 0h1m2 0h2m3 0h1m2 0h2m1 0h4m3 0h2m3 0h3m1 0h17M106 582h3m1 0h1m1 0h4m1 0h1m2 0h2m1 0h1m1 0h1m1 0h1m3 0h2m1 0h1m2 0h1m2 0h17m6 0h2m3 0h1M96 583h1m4 0h1m2 0h1m6 0h2m1 0h1m1 0h1m5 0h1m1 0h2m3 0h1m3 0h2m1 0h1m1 0h3m1 0h13m1 0h2m2 0h1m4 0h1m1 0h1M96 584h1m1 0h1m4 0h1m1 0h1m6 0h3m3 0h2m1 0h1m1 0h4m1 0h1m2 0h5m2 0h1m1 0h4m1 0h9m1 0h1m3 0h1m4 0h2M93 585h1m9 0h2m1 0h1m2 0h3m1 0h3m1 0h2m2 0h5m1 0h4m3 0h1m1 0h2m2 0h1m2 0h9m1 0h3M91 586h1m7 0h1m2 0h1m1 0h2m1 0h2m3 0h2m2 0h3m3 0h4m1 0h3m4 0h2m1 0h3m2 0h4m2 0h4m1 0h1m1 0h2M94 587h3m1 0h1m1 0h3m2 0h1m1 0h3m1 0h1m1 0h1m1 0h1m1 0h6m2 0h3m1 0h2m2 0h2m1 0h1m2 0h1m1 0h1m1 0h2m1 0h11M93 588h4m1 0h13m1 0h4m2 0h5m1 0h8m3 0h1m1 0h3m4 0h1m1 0h1m2 0h1m2 0h1M88 589h1m2 0h2m1 0h1m1 0h4m1 0h2m1 0h1m1 0h2m1 0h4m1 0h6m2 0h1m1 0h3m1 0h3m1 0h1m2 0h2m1 0h3m5 0h1m1 0h1m4 0h1M83 590h1m4 0h3m1 0h1m1 0h1m1 0h13m1 0h5m1 0h3m1 0h2m2 0h1m1 0h1m1 0h8m2 0h2m1 0h1m2 0h2m2 0h1m1 0h1m1 0h1m11 0h1M86 591h1m3 0h5m1 0h17m1 0h1m1 0h5m2 0h1m2 0h2m1 0h2m8 0h1m1 0h1m1 0h1m2 0h3m1 0h1m2 0h1M84 592h1m6 0h3m1 0h13m1 0h3m1 0h2m1 0h5m5 0h5m1 0h1m4 0h1m3 0h1m4 0h1m9 0h1M86 593h1m1 0h1m4 0h22m1 0h2m1 0h5m1 0h2m1 0h1m2 0h1m1 0h1m5 0h1m3 0h1m1 0h1M86 594h1m1 0h30m5 0h1m1 0h1m1 0h1m6 0h1m3 0h1m1 0h1M84 595h1m2 0h1m1 0h1m1 0h19m1 0h1m3 0h1m1 0h1m1 0h9m4 0h1m6 0h1m7 0h2m8 0h1M85 596h1m2 0h4m1 0h24m1 0h2m6 0h2m4 0h1m2 0h1m1 0h1m5 0h1m1 0h2m5 0h1M87 597h24m1 0h7m1 0h1m1 0h3m5 0h1m9 0h1m3 0h2m10 0h1M83 598h6m1 0h27m4 0h2m2 0h3m4 0h1m2 0h1m6 0h1m3 0h1m3 0h1M82 599h28m1 0h5m1 0h5m16 0h1m1 0h1M82 600h1m1 0h1m2 0h28m3 0h2m2 0h3m10 0h1m11 0h1M84 601h4m1 0h19m1 0h2m1 0h1m2 0h1m2 0h3m2 0h4m19 0h1M83 602h29m1 0h1m1 0h4m1 0h1m3 0h1m8 0h1M84 603h29m1 0h4m5 0h1m1 0h3m17 0h1M82 604h2m1 0h30m4 0h1m1 0h1m5 0h1m1 0h1m1 0h1m21 0h1M82 605h1m2 0h30m8 0h1m5 0h1M82 606h2m1 0h25m1 0h2m5 0h1m5 0h1m1 0h1M82 607h1m1 0h1m1 0h22m1 0h3m3 0h1m3 0h1m16 0h1M82 608h1m1 0h25m4 0h3m1 0h1m2 0h1m1 0h1m3 0h1m9 0h1m7 0h1M83 609h27m4 0h1M82 610h29m1 0h2m36 0h1M83 611h1m1 0h22m1 0h1M82 612h24m1 0h1m2 0h1m17 0h1M82 613h1m1 0h23m1 0h2m12 0h1m5 0h1M82 614h22m1 0h4M82 615h4m1 0h17m2 0h3m4 0h1M82 616h23m8 0h1m4 0h1M82 617h3m1 0h8m1 0h8m1 0h2m1 0h1m1 0h1M82 618h2m1 0h4m1 0h13m2 0h1M82 619h1m2 0h5m1 0h5m1 0h1m1 0h3m2 0h2m1 0h1M82 620h2m1 0h5m2 0h1m1 0h7m1 0h1m1 0h1m16 0h1M271 547h1M272 550h1M264 553h1M263 556h1m2 0h1M257 558h1m20 0h1M261 559h1m1 0h1m13 0h1M259 560h1m3 0h1m3 0h1m7 0h1M257 561h4m1 0h2m1 0h1m3 0h1M254 562h1m1 0h5m3 0h2M257 563h8m1 0h2M259 564h1m1 0h7m1 0h1m4 0h1M254 565h1m1 0h1m1 0h5m1 0h1m2 0h2M252 566h1m1 0h1m1 0h1m1 0h8m2 0h3M252 567h2m1 0h2m2 0h10m2 0h1M249 568h2m1 0h1m1 0h1m1 0h9m2 0h2m1 0h1M253 569h15m1 0h1m1 0h1M252 570h17m1 0h2M248 571h1m4 0h12m2 0h4M219 572h1m2 0h1m24 0h1m1 0h1m3 0h10m1 0h3m1 0h1m1 0h1M224 573h1m2 0h1m23 0h1m1 0h12m1 0h2m1 0h1m4 0h1M228 574h1m19 0h1m2 0h2m1 0h6m1 0h1m2 0h5M219 575h2m1 0h2m8 0h1m12 0h1m3 0h2m1 0h1m1 0h13M225 576h2m22 0h2m1 0h8m1 0h4m4 0h1M218 577h2m2 0h1m2 0h1m3 0h1m19 0h1m1 0h16m2 0h1M212 578h1m6 0h2m1 0h1m1 0h2m1 0h1m1 0h2m18 0h1m2 0h1m1 0h10M216 579h1m1 0h1m1 0h1m1 0h1m1 0h1m1 0h2m19 0h3m1 0h8m1 0h1m2 0h1m1 0h2M214 580h3m1 0h1m1 0h3m1 0h4m1 0h1m18 0h12m1 0h2m1 0h1M215 581h7m2 0h1m1 0h2m4 0h1m7 0h1m6 0h1m1 0h1m1 0h4m1 0h6m2 0h1M212 582h2m1 0h1m1 0h6m1 0h1m2 0h1m1 0h3m17 0h1m2 0h3m1 0h5m1 0h2M215 583h1m1 0h2m1 0h9m19 0h1m1 0h1m1 0h1m1 0h1m1 0h3m1 0h3M211 584h2m2 0h4m1 0h1m1 0h1m1 0h2m1 0h3m4 0h1m3 0h1m8 0h1m1 0h1m2 0h1m1 0h1m1 0h1m2 0h3M210 585h1m1 0h1m2 0h11m1 0h6m2 0h1m13 0h5m2 0h2m1 0h1m1 0h1M212 586h16m2 0h1m1 0h1m16 0h2m1 0h1m4 0h1m2 0h1M207 587h1m2 0h1m3 0h1m1 0h14m1 0h1m1 0h1m20 0h1m3 0h1m1 0h1M211 588h1m1 0h4m1 0h4m1 0h7m3 0h1m19 0h3m3 0h1M210 589h12m1 0h5m1 0h1m1 0h2m21 0h1m3 0h1M212 590h2m1 0h16m1 0h1m17 0h1m7 0h1M209 591h2m1 0h1m1 0h9m1 0h5m2 0h1M206 592h1m1 0h3m1 0h13m1 0h2m1 0h1m1 0h1m21 0h1M207 593h20m1 0h2m3 0h1m23 0h2M204 594h1m3 0h8m1 0h10m2 0h3M208 595h8m1 0h11m1 0h1m1 0h2m21 0h1m4 0h1M202 596h1m3 0h18m1 0h3m3 0h1m25 0h1M203 597h1m2 0h7m1 0h7m1 0h5m1 0h1m2 0h1M203 598h25m1 0h1m3 0h1m23 0h2M205 599h23m1 0h1m1 0h1m28 0h1M201 600h1m2 0h23m1 0h2m26 0h1M203 601h2m1 0h17m1 0h2m1 0h3M199 602h1m1 0h1m2 0h19m1 0h4m2 0h2m29 0h1M203 603h24m1 0h1m30 0h1M200 604h1m2 0h25m1 0h1M199 605h3m3 0h22m2 0h1m29 0h1M201 606h1m1 0h1m1 0h18m1 0h1m3 0h2m21 0h1m3 0h1m8 0h1M201 607h22m1 0h1m3 0h1m24 0h1m5 0h1M200 608h2m1 0h22m1 0h1m1 0h1m23 0h1m5 0h1m2 0h1m2 0h1m1 0h1M200 609h26m25 0h2m2 0h4m2 0h2m2 0h1M200 610h1m1 0h22m1 0h1m25 0h2m1 0h3m2 0h3M200 611h25m22 0h1m2 0h3m1 0h10m1 0h1m2 0h1M200 612h1m1 0h18m1 0h1m1 0h4m3 0h1m23 0h12M202 613h2m1 0h18m2 0h1m24 0h7m1 0h7m1 0h1m3 0h1M199 614h2m1 0h3m1 0h16m1 0h1m1 0h2m22 0h1m3 0h5m1 0h1m1 0h5M199 615h25m1 0h1m3 0h1m20 0h1m1 0h13m1 0h1M200 616h1m1 0h22m23 0h1m1 0h1m2 0h3m1 0h8m4 0h1M201 617h18m31 0h1m1 0h6m1 0h5m3 0h1M199 618h1m2 0h2m1 0h13m1 0h5m1 0h1m27 0h9m3 0h1M201 619h15m1 0h4m3 0h1m25 0h1m1 0h1m1 0h1m2 0h2m2 0h2M201 620h15m1 0h5m2 0h1m31 0h1m1 0h4"/></g><rect x="81.70" y="432.10" width="88.10" height="86.90" fill="none" stroke="#555" stroke-width="0.9"/><line x1="116.6" y1="432.1" x2="116.6" y2="519" stroke="#666" stroke-width="0.9"/><line x1="81.7" y1="484.9" x2="169.8" y2="484.9" stroke="#666" stroke-width="0.9"/><text x="83.7" y="523.2" font-size="3.8" fill="#8a8a8a" text-anchor="middle">10<tspan font-size="2.6" dy="-1.4">0</tspan></text><text transform="translate(80.1 514.7) rotate(-90)" font-size="3.8" fill="#8a8a8a" text-anchor="middle">10<tspan font-size="2.6" dy="-1.4">0</tspan></text><line x1="81.7" y1="514.70" x2="83.2" y2="514.70" stroke="#777" stroke-width="0.7"/><line x1="83.70" y1="519.0" x2="83.70" y2="517.5" stroke="#777" stroke-width="0.7"/><text x="105.6" y="523.2" font-size="3.8" fill="#8a8a8a" text-anchor="middle">10<tspan font-size="2.6" dy="-1.4">1</tspan></text><text transform="translate(80.1 493.3) rotate(-90)" font-size="3.8" fill="#8a8a8a" text-anchor="middle">10<tspan font-size="2.6" dy="-1.4">1</tspan></text><line x1="81.7" y1="493.30" x2="83.2" y2="493.30" stroke="#777" stroke-width="0.7"/><line x1="105.55" y1="519.0" x2="105.55" y2="517.5" stroke="#777" stroke-width="0.7"/><text x="127.4" y="523.2" font-size="3.8" fill="#8a8a8a" text-anchor="middle">10<tspan font-size="2.6" dy="-1.4">2</tspan></text><text transform="translate(80.1 471.9) rotate(-90)" font-size="3.8" fill="#8a8a8a" text-anchor="middle">10<tspan font-size="2.6" dy="-1.4">2</tspan></text><line x1="81.7" y1="471.90" x2="83.2" y2="471.90" stroke="#777" stroke-width="0.7"/><line x1="127.40" y1="519.0" x2="127.40" y2="517.5" stroke="#777" stroke-width="0.7"/><text x="149.2" y="523.2" font-size="3.8" fill="#8a8a8a" text-anchor="middle">10<tspan font-size="2.6" dy="-1.4">3</tspan></text><text transform="translate(80.1 450.5) rotate(-90)" font-size="3.8" fill="#8a8a8a" text-anchor="middle">10<tspan font-size="2.6" dy="-1.4">3</tspan></text><line x1="81.7" y1="450.50" x2="83.2" y2="450.50" stroke="#777" stroke-width="0.7"/><line x1="149.25" y1="519.0" x2="149.25" y2="517.5" stroke="#777" stroke-width="0.7"/><text x="171.1" y="523.2" font-size="3.8" fill="#8a8a8a" text-anchor="middle">10<tspan font-size="2.6" dy="-1.4">4</tspan></text><text transform="translate(80.1 429.1) rotate(-90)" font-size="3.8" fill="#8a8a8a" text-anchor="middle">10<tspan font-size="2.6" dy="-1.4">4</tspan></text><line x1="81.7" y1="429.10" x2="83.2" y2="429.10" stroke="#777" stroke-width="0.7"/><line x1="171.10" y1="519.0" x2="171.10" y2="517.5" stroke="#777" stroke-width="0.7"/><rect x="198.70" y="432.10" width="88.10" height="86.40" fill="none" stroke="#555" stroke-width="0.9"/><line x1="228.6" y1="432.1" x2="228.6" y2="518.5" stroke="#666" stroke-width="0.9"/><line x1="198.7" y1="489.2" x2="286.8" y2="489.2" stroke="#666" stroke-width="0.9"/><text x="200.7" y="522.7" font-size="3.8" fill="#8a8a8a" text-anchor="middle">10<tspan font-size="2.6" dy="-1.4">0</tspan></text><text transform="translate(197.1 514.2) rotate(-90)" font-size="3.8" fill="#8a8a8a" text-anchor="middle">10<tspan font-size="2.6" dy="-1.4">0</tspan></text><line x1="198.7" y1="514.20" x2="200.2" y2="514.20" stroke="#777" stroke-width="0.7"/><line x1="200.70" y1="518.5" x2="200.70" y2="517.0" stroke="#777" stroke-width="0.7"/><text x="222.5" y="522.7" font-size="3.8" fill="#8a8a8a" text-anchor="middle">10<tspan font-size="2.6" dy="-1.4">1</tspan></text><text transform="translate(197.1 492.8) rotate(-90)" font-size="3.8" fill="#8a8a8a" text-anchor="middle">10<tspan font-size="2.6" dy="-1.4">1</tspan></text><line x1="198.7" y1="492.80" x2="200.2" y2="492.80" stroke="#777" stroke-width="0.7"/><line x1="222.55" y1="518.5" x2="222.55" y2="517.0" stroke="#777" stroke-width="0.7"/><text x="244.4" y="522.7" font-size="3.8" fill="#8a8a8a" text-anchor="middle">10<tspan font-size="2.6" dy="-1.4">2</tspan></text><text transform="translate(197.1 471.4) rotate(-90)" font-size="3.8" fill="#8a8a8a" text-anchor="middle">10<tspan font-size="2.6" dy="-1.4">2</tspan></text><line x1="198.7" y1="471.40" x2="200.2" y2="471.40" stroke="#777" stroke-width="0.7"/><line x1="244.40" y1="518.5" x2="244.40" y2="517.0" stroke="#777" stroke-width="0.7"/><text x="266.2" y="522.7" font-size="3.8" fill="#8a8a8a" text-anchor="middle">10<tspan font-size="2.6" dy="-1.4">3</tspan></text><text transform="translate(197.1 450.0) rotate(-90)" font-size="3.8" fill="#8a8a8a" text-anchor="middle">10<tspan font-size="2.6" dy="-1.4">3</tspan></text><line x1="198.7" y1="450.00" x2="200.2" y2="450.00" stroke="#777" stroke-width="0.7"/><line x1="266.25" y1="518.5" x2="266.25" y2="517.0" stroke="#777" stroke-width="0.7"/><text x="288.1" y="522.7" font-size="3.8" fill="#8a8a8a" text-anchor="middle">10<tspan font-size="2.6" dy="-1.4">4</tspan></text><text transform="translate(197.1 428.6) rotate(-90)" font-size="3.8" fill="#8a8a8a" text-anchor="middle">10<tspan font-size="2.6" dy="-1.4">4</tspan></text><line x1="198.7" y1="428.60" x2="200.2" y2="428.60" stroke="#777" stroke-width="0.7"/><line x1="288.10" y1="518.5" x2="288.10" y2="517.0" stroke="#777" stroke-width="0.7"/><rect x="81.70" y="536.00" width="88.70" height="85.40" fill="none" stroke="#555" stroke-width="0.9"/><line x1="116.6" y1="536" x2="116.6" y2="621.4" stroke="#666" stroke-width="0.9"/><line x1="81.7" y1="588.2" x2="170.4" y2="588.2" stroke="#666" stroke-width="0.9"/><text x="83.7" y="625.6" font-size="3.8" fill="#8a8a8a" text-anchor="middle">10<tspan font-size="2.6" dy="-1.4">0</tspan></text><text transform="translate(80.1 617.1) rotate(-90)" font-size="3.8" fill="#8a8a8a" text-anchor="middle">10<tspan font-size="2.6" dy="-1.4">0</tspan></text><line x1="81.7" y1="617.10" x2="83.2" y2="617.10" stroke="#777" stroke-width="0.7"/><line x1="83.70" y1="621.4" x2="83.70" y2="619.9" stroke="#777" stroke-width="0.7"/><text x="105.6" y="625.6" font-size="3.8" fill="#8a8a8a" text-anchor="middle">10<tspan font-size="2.6" dy="-1.4">1</tspan></text><text transform="translate(80.1 595.7) rotate(-90)" font-size="3.8" fill="#8a8a8a" text-anchor="middle">10<tspan font-size="2.6" dy="-1.4">1</tspan></text><line x1="81.7" y1="595.70" x2="83.2" y2="595.70" stroke="#777" stroke-width="0.7"/><line x1="105.55" y1="621.4" x2="105.55" y2="619.9" stroke="#777" stroke-width="0.7"/><text x="127.4" y="625.6" font-size="3.8" fill="#8a8a8a" text-anchor="middle">10<tspan font-size="2.6" dy="-1.4">2</tspan></text><text transform="translate(80.1 574.3) rotate(-90)" font-size="3.8" fill="#8a8a8a" text-anchor="middle">10<tspan font-size="2.6" dy="-1.4">2</tspan></text><line x1="81.7" y1="574.30" x2="83.2" y2="574.30" stroke="#777" stroke-width="0.7"/><line x1="127.40" y1="621.4" x2="127.40" y2="619.9" stroke="#777" stroke-width="0.7"/><text x="149.2" y="625.6" font-size="3.8" fill="#8a8a8a" text-anchor="middle">10<tspan font-size="2.6" dy="-1.4">3</tspan></text><text transform="translate(80.1 552.9) rotate(-90)" font-size="3.8" fill="#8a8a8a" text-anchor="middle">10<tspan font-size="2.6" dy="-1.4">3</tspan></text><line x1="81.7" y1="552.90" x2="83.2" y2="552.90" stroke="#777" stroke-width="0.7"/><line x1="149.25" y1="621.4" x2="149.25" y2="619.9" stroke="#777" stroke-width="0.7"/><text x="171.1" y="625.6" font-size="3.8" fill="#8a8a8a" text-anchor="middle">10<tspan font-size="2.6" dy="-1.4">4</tspan></text><text transform="translate(80.1 531.5) rotate(-90)" font-size="3.8" fill="#8a8a8a" text-anchor="middle">10<tspan font-size="2.6" dy="-1.4">4</tspan></text><line x1="81.7" y1="531.50" x2="83.2" y2="531.50" stroke="#777" stroke-width="0.7"/><line x1="171.10" y1="621.4" x2="171.10" y2="619.9" stroke="#777" stroke-width="0.7"/><rect x="198.70" y="536.50" width="88.10" height="85.30" fill="none" stroke="#555" stroke-width="0.9"/><line x1="229" y1="536.5" x2="229" y2="621.8" stroke="#666" stroke-width="0.9"/><line x1="198.7" y1="593.1" x2="286.8" y2="593.1" stroke="#666" stroke-width="0.9"/><text x="200.7" y="626.0" font-size="3.8" fill="#8a8a8a" text-anchor="middle">10<tspan font-size="2.6" dy="-1.4">0</tspan></text><text transform="translate(197.1 617.5) rotate(-90)" font-size="3.8" fill="#8a8a8a" text-anchor="middle">10<tspan font-size="2.6" dy="-1.4">0</tspan></text><line x1="198.7" y1="617.50" x2="200.2" y2="617.50" stroke="#777" stroke-width="0.7"/><line x1="200.70" y1="621.8" x2="200.70" y2="620.3" stroke="#777" stroke-width="0.7"/><text x="222.5" y="626.0" font-size="3.8" fill="#8a8a8a" text-anchor="middle">10<tspan font-size="2.6" dy="-1.4">1</tspan></text><text transform="translate(197.1 596.1) rotate(-90)" font-size="3.8" fill="#8a8a8a" text-anchor="middle">10<tspan font-size="2.6" dy="-1.4">1</tspan></text><line x1="198.7" y1="596.10" x2="200.2" y2="596.10" stroke="#777" stroke-width="0.7"/><line x1="222.55" y1="621.8" x2="222.55" y2="620.3" stroke="#777" stroke-width="0.7"/><text x="244.4" y="626.0" font-size="3.8" fill="#8a8a8a" text-anchor="middle">10<tspan font-size="2.6" dy="-1.4">2</tspan></text><text transform="translate(197.1 574.7) rotate(-90)" font-size="3.8" fill="#8a8a8a" text-anchor="middle">10<tspan font-size="2.6" dy="-1.4">2</tspan></text><line x1="198.7" y1="574.70" x2="200.2" y2="574.70" stroke="#777" stroke-width="0.7"/><line x1="244.40" y1="621.8" x2="244.40" y2="620.3" stroke="#777" stroke-width="0.7"/><text x="266.2" y="626.0" font-size="3.8" fill="#8a8a8a" text-anchor="middle">10<tspan font-size="2.6" dy="-1.4">3</tspan></text><text transform="translate(197.1 553.3) rotate(-90)" font-size="3.8" fill="#8a8a8a" text-anchor="middle">10<tspan font-size="2.6" dy="-1.4">3</tspan></text><line x1="198.7" y1="553.30" x2="200.2" y2="553.30" stroke="#777" stroke-width="0.7"/><line x1="266.25" y1="621.8" x2="266.25" y2="620.3" stroke="#777" stroke-width="0.7"/><text x="288.1" y="626.0" font-size="3.8" fill="#8a8a8a" text-anchor="middle">10<tspan font-size="2.6" dy="-1.4">4</tspan></text><text transform="translate(197.1 531.9) rotate(-90)" font-size="3.8" fill="#8a8a8a" text-anchor="middle">10<tspan font-size="2.6" dy="-1.4">4</tspan></text><line x1="198.7" y1="531.90" x2="200.2" y2="531.90" stroke="#777" stroke-width="0.7"/><line x1="288.10" y1="621.8" x2="288.10" y2="620.3" stroke="#777" stroke-width="0.7"/><text x="125.5" y="527.6" font-size="3.6" fill="#777" text-anchor="middle" font-weight="bold">Gr-1 FE</text><text x="242.2" y="527.6" font-size="3.6" fill="#777" text-anchor="middle" font-weight="bold">Ter119 PE</text><line x1="73.8" y1="429.2" x2="73.8" y2="630.6" stroke="#000" stroke-width="2.6"/><line x1="72.5" y1="629.6" x2="170" y2="629.6" stroke="#000" stroke-width="2"/><line x1="191.8" y1="429.5" x2="191.8" y2="630.6" stroke="#000" stroke-width="2.6"/><line x1="190.5" y1="629.6" x2="287" y2="629.6" stroke="#000" stroke-width="2"/><text transform="translate(86.75 445.2) scale(1.01 1)" font-size="10.76" font-weight="bold" fill="#000" stroke="#000" stroke-width="0.15" letter-spacing="0.8">3.5</text><text transform="translate(138.43 445.2) scale(1.06 1)" font-size="10.76" font-weight="bold" fill="#000" stroke="#000" stroke-width="0.15" letter-spacing="0.77">42.4</text><text transform="translate(145.72 512.9) scale(1.03 1)" font-size="10.76" font-weight="bold" fill="#000" stroke="#000" stroke-width="0.15" letter-spacing="0.79">9.6</text><text transform="translate(200.15 446.8) scale(0.98 1)" font-size="12.21" font-weight="bold" fill="#000" stroke="#000" stroke-width="0.15" letter-spacing="0.83">19.2</text><text transform="translate(257.07 446.8) scale(0.95 1)" font-size="12.21" font-weight="bold" fill="#000" stroke="#000" stroke-width="0.15" letter-spacing="0.84">11.3</text><text transform="translate(263.35 514.3) scale(0.91 1)" font-size="12.06" font-weight="bold" fill="#000" stroke="#000" stroke-width="0.15" letter-spacing="0.89">8.1</text><text transform="translate(201.08 514.3) scale(0.95 1)" font-size="12.06" font-weight="bold" fill="#000" stroke="#000" stroke-width="0.15" letter-spacing="0.83">61.0</text><text transform="translate(86.52 552) scale(1.03 1)" font-size="10.76" font-weight="bold" fill="#000" stroke="#000" stroke-width="0.15" letter-spacing="0.78">7.9</text><text transform="translate(140.75 552) scale(0.99 1)" font-size="10.76" font-weight="bold" fill="#000" stroke="#000" stroke-width="0.15" letter-spacing="0.76">30.4</text><text transform="translate(151.22 618.1) scale(1.03 1)" font-size="10.9" font-weight="bold" fill="#000" stroke="#000" stroke-width="0.15" letter-spacing="0.79">7.6</text><text transform="translate(200.98 553.2) scale(0.95 1)" font-size="11.92" font-weight="bold" fill="#000" stroke="#000" stroke-width="0.15" letter-spacing="0.83">11.4</text><text transform="translate(258.6 553.2) scale(0.98 1)" font-size="11.92" font-weight="bold" fill="#000" stroke="#000" stroke-width="0.15" letter-spacing="0.83">27.3</text><text transform="translate(260.35 620.3) scale(0.88 1)" font-size="11.77" font-weight="bold" fill="#000" stroke="#000" stroke-width="0.15" letter-spacing="0.82">10.4</text><text transform="translate(201.35 620.3) scale(0.96 1)" font-size="11.77" font-weight="bold" fill="#000" stroke="#000" stroke-width="0.15" letter-spacing="0.82">50.9</text><text transform="translate(69 539.81) rotate(-90) scale(0.93 1)" font-size="13.08" font-weight="bold" stroke="#000" stroke-width="0.2">Mac-1</text><text transform="translate(187 539.48) rotate(-90) scale(0.98 1)" font-size="11.92" font-weight="bold" stroke="#000" stroke-width="0.2">CD71</text><text transform="translate(115.75 646.2) scale(0.92 1)" font-size="11.92" font-weight="bold" fill="#000" stroke="#000" stroke-width="0.15" letter-spacing="0.88">Gr-1</text><text transform="translate(221.88 646.5) scale(0.87 1)" font-size="12.35" font-weight="bold" fill="#000" stroke="#000" stroke-width="0.15" letter-spacing="0.99">TER119</text><text transform="translate(296.87 482.4) scale(0.92 1)" font-size="11.92" font-weight="bold" fill="#000" letter-spacing="0.96">Id1-/-</text><text transform="translate(296.91 586.2) scale(0.89 1)" font-size="11.63" font-weight="bold" fill="#000" letter-spacing="1.14">Id1+/+</text><line x1="386.7" y1="431.5" x2="386.7" y2="629.3" stroke="#000" stroke-width="2.4"/><line x1="379.2" y1="628.1" x2="386.7" y2="628.1" stroke="#000" stroke-width="2.4"/><text transform="translate(371.24 633.21) scale(0.98 1)" font-size="13.4" font-weight="bold" fill="#000" stroke="#000" stroke-width="0.35">0</text><line x1="379.2" y1="589.02" x2="386.7" y2="589.02" stroke="#000" stroke-width="2.4"/><text transform="translate(363.93 594.13) scale(0.98 1)" font-size="13.4" font-weight="bold" fill="#000" stroke="#000" stroke-width="0.35">10</text><line x1="379.2" y1="549.94" x2="386.7" y2="549.94" stroke="#000" stroke-width="2.4"/><text transform="translate(363.93 555.05) scale(0.98 1)" font-size="13.4" font-weight="bold" fill="#000" stroke="#000" stroke-width="0.35">20</text><line x1="379.2" y1="510.86" x2="386.7" y2="510.86" stroke="#000" stroke-width="2.4"/><text transform="translate(363.93 515.97) scale(0.98 1)" font-size="13.4" font-weight="bold" fill="#000" stroke="#000" stroke-width="0.35">30</text><line x1="379.2" y1="471.78" x2="386.7" y2="471.78" stroke="#000" stroke-width="2.4"/><text transform="translate(363.93 476.89) scale(0.98 1)" font-size="13.4" font-weight="bold" fill="#000" stroke="#000" stroke-width="0.35">40</text><line x1="379.2" y1="432.7" x2="386.7" y2="432.7" stroke="#000" stroke-width="2.4"/><text transform="translate(363.93 437.81) scale(0.98 1)" font-size="13.4" font-weight="bold" fill="#000" stroke="#000" stroke-width="0.35">50</text><line x1="385.5" y1="628.1" x2="507.3" y2="628.1" stroke="#000" stroke-width="2.4"/><line x1="408" y1="471.5" x2="408" y2="462.8" stroke="#000" stroke-width="2.2"/><line x1="401.5" y1="462.8" x2="414.6" y2="462.8" stroke="#000" stroke-width="2.4"/><rect x="397.7" y="471.9" width="20.4" height="156.2" fill="#fff" stroke="#000" stroke-width="2.2"/><line x1="429.3" y1="493" x2="429.3" y2="490.3" stroke="#000" stroke-width="2.2"/><line x1="422.5" y1="490.3" x2="436" y2="490.3" stroke="#000" stroke-width="2.4"/><rect x="417.8" y="492.6" width="23.5" height="135.5" fill="#000"/><line x1="473" y1="562" x2="473" y2="554.9" stroke="#000" stroke-width="2.2"/><line x1="467" y1="554.9" x2="479" y2="554.9" stroke="#000" stroke-width="2.4"/><rect x="462.6" y="562.4" width="18.8" height="65.7" fill="#fff" stroke="#000" stroke-width="2.2"/><line x1="494.8" y1="531" x2="494.8" y2="523.1" stroke="#000" stroke-width="2.2"/><line x1="488.5" y1="523.1" x2="501.1" y2="523.1" stroke="#000" stroke-width="2.4"/><rect x="482" y="530.4" width="24" height="97.7" fill="#000"/><polyline points="408.4,452.5 408.4,445.6 429.2,445.6 429.2,452.5" fill="none" stroke="#000" stroke-width="3"/><path d="M418.7 439.2L418.7 436.05M418.7 439.2L421.7 438.23M418.7 439.2L420.55 441.75M418.7 439.2L416.85 441.75M418.7 439.2L415.7 438.23" stroke="#000" stroke-width="2" stroke-linecap="round" fill="none"/><polyline points="472.4,513.7 472.4,506.1 493,506.1 493,513.7" fill="none" stroke="#000" stroke-width="3"/><path d="M483.1 500.5L483.1 497.35M483.1 500.5L486.1 499.53M483.1 500.5L484.95 503.05M483.1 500.5L481.25 503.05M483.1 500.5L480.1 499.53" stroke="#000" stroke-width="2" stroke-linecap="round" fill="none"/><rect x="441.7" y="440.3" width="29.2" height="10.1" fill="#fff" stroke="#000" stroke-width="2.8"/><rect x="440.4" y="461.5" width="31.6" height="13.2" fill="#000"/><text transform="translate(474.3 450.4) scale(1.36 1)" font-size="11.63" font-weight="normal" fill="#000" letter-spacing="0.55" stroke="#000" stroke-width="0.5">-/-</text><text transform="translate(474.29 472.6) scale(1.25 1)" font-size="11.63" font-weight="normal" fill="#000" letter-spacing="0.87" stroke="#000" stroke-width="0.5">+/+</text><text transform="translate(396.53 641) scale(1.07 1)" font-size="10.76" font-weight="bold" fill="#000" letter-spacing="0.89">G+/M+</text><text transform="translate(455.48 641) scale(1 1)" font-size="10.76" font-weight="bold" fill="#000" letter-spacing="0.84">TER119+</text><text transform="translate(353 573.48) rotate(-90) scale(1.01 1)" font-size="15.99" font-weight="bold" stroke="#000" stroke-width="0.2">Percentage</text><text transform="translate(1.58 679.6) scale(0.96 1)" font-size="19.04" font-weight="bold" fill="#000" stroke="#000" stroke-width="0.15">D</text><text transform="translate(105.69 690.9) scale(0.94 1)" font-size="13.37" font-weight="bold" fill="#000" stroke="#000" stroke-width="0.15" letter-spacing="0.95">Gr-1+</text><line x1="73.6" y1="715" x2="73.6" y2="845.5" stroke="#000" stroke-width="2"/><line x1="69.6" y1="716" x2="73.6" y2="716" stroke="#000" stroke-width="2"/><text transform="translate(54.7 720.73) scale(1.05 1)" font-size="12" font-weight="bold" fill="#000" stroke="#000" stroke-width="0.35">20</text><line x1="69.6" y1="748.1" x2="73.6" y2="748.1" stroke="#000" stroke-width="2"/><text transform="translate(54.54 752.83) scale(1.05 1)" font-size="12" font-weight="bold" fill="#000" stroke="#000" stroke-width="0.35">15</text><line x1="69.6" y1="780.3" x2="73.6" y2="780.3" stroke="#000" stroke-width="2"/><text transform="translate(54.7 785.03) scale(1.05 1)" font-size="12" font-weight="bold" fill="#000" stroke="#000" stroke-width="0.35">10</text><line x1="69.6" y1="812.4" x2="73.6" y2="812.4" stroke="#000" stroke-width="2"/><text transform="translate(61.54 817.13) scale(1.05 1)" font-size="12" font-weight="bold" fill="#000" stroke="#000" stroke-width="0.35">5</text><line x1="69.6" y1="844.5" x2="73.6" y2="844.5" stroke="#000" stroke-width="2"/><text transform="translate(61.71 849.23) scale(1.05 1)" font-size="12" font-weight="bold" fill="#000" stroke="#000" stroke-width="0.35">0</text><line x1="72.6" y1="844.5" x2="161.2" y2="844.5" stroke="#000" stroke-width="2"/><line x1="95.5" y1="844.5" x2="95.5" y2="848.5" stroke="#000" stroke-width="2"/><text transform="translate(90.65 860.2) scale(0.93 1)" font-size="12.2" font-weight="bold" fill="#000" stroke="#000" stroke-width="0.35">-/-</text><line x1="138.6" y1="844.5" x2="138.6" y2="848.5" stroke="#000" stroke-width="2"/><text transform="translate(130.89 860.2) scale(0.93 1)" font-size="12.2" font-weight="bold" fill="#000" stroke="#000" stroke-width="0.35">+/+</text><circle cx="95.3" cy="725" r="3.3" fill="none" stroke="#000" stroke-width="1.6"/><circle cx="83.9" cy="744.7" r="3.3" fill="none" stroke="#000" stroke-width="1.6"/><circle cx="95" cy="750.1" r="3.3" fill="none" stroke="#000" stroke-width="1.6"/><circle cx="101.5" cy="753.5" r="3.3" fill="none" stroke="#000" stroke-width="1.6"/><circle cx="95.3" cy="764.5" r="3.3" fill="none" stroke="#000" stroke-width="1.6"/><circle cx="101.2" cy="774.2" r="3.3" fill="none" stroke="#000" stroke-width="1.6"/><circle cx="83.9" cy="782.2" r="3.3" fill="none" stroke="#000" stroke-width="1.6"/><circle cx="95.3" cy="782.7" r="3.3" fill="none" stroke="#000" stroke-width="1.6"/><circle cx="95.3" cy="807.3" r="3.3" fill="none" stroke="#000" stroke-width="1.6"/><line x1="80.4" y1="764.7" x2="110.7" y2="764.7" stroke="#000" stroke-width="1.8"/><circle cx="138.1" cy="731.9" r="3.6" fill="#000"/><circle cx="132.2" cy="735" r="3.6" fill="#000"/><circle cx="143.9" cy="738.1" r="3.6" fill="#000"/><circle cx="126.5" cy="742.4" r="3.6" fill="#000"/><circle cx="138.1" cy="744.5" r="3.6" fill="#000"/><circle cx="143.9" cy="754.7" r="3.6" fill="#000"/><circle cx="138.1" cy="757.3" r="3.6" fill="#000"/><circle cx="138.1" cy="776.8" r="3.6" fill="#000"/><circle cx="138.1" cy="793.5" r="3.6" fill="#000"/><line x1="123.5" y1="752.7" x2="153.2" y2="752.7" stroke="#000" stroke-width="1.8"/><text transform="translate(48.7 817.37) rotate(-90) scale(0.98 1)" font-size="14.24" font-weight="bold" stroke="#000" stroke-width="0.2">Count</text><text transform="translate(48.7 762.56) rotate(-90) scale(1.08 1)" font-size="14.1" font-weight="bold" stroke="#000" stroke-width="0.2">10</text><text transform="translate(40.6 745.84) rotate(-90) scale(1.13 1)" font-size="10.6" font-weight="bold" stroke="#000" stroke-width="0.2">6</text><g transform="translate(42.80 771.50) rotate(-90)"><path d="M0 0L6 5.7M6 0L0 5.7" stroke="#000" stroke-width="1.1"/></g><text transform="translate(247.46 690.6) scale(0.98 1)" font-size="12.94" font-weight="bold" fill="#000" stroke="#000" stroke-width="0.15" letter-spacing="1.03">B220+</text><line x1="225.1" y1="715" x2="225.1" y2="845.5" stroke="#000" stroke-width="2"/><line x1="221.1" y1="716" x2="225.1" y2="716" stroke="#000" stroke-width="2"/><text transform="translate(195.69 720.73) scale(1.05 1)" font-size="12" font-weight="bold" fill="#000" stroke="#000" stroke-width="0.35">18.0</text><line x1="221.1" y1="748.1" x2="225.1" y2="748.1" stroke="#000" stroke-width="2"/><text transform="translate(195.53 752.83) scale(1.05 1)" font-size="12" font-weight="bold" fill="#000" stroke="#000" stroke-width="0.35">13.5</text><line x1="221.1" y1="780.3" x2="225.1" y2="780.3" stroke="#000" stroke-width="2"/><text transform="translate(202.7 785.03) scale(1.05 1)" font-size="12" font-weight="bold" fill="#000" stroke="#000" stroke-width="0.35">9.0</text><line x1="221.1" y1="812.4" x2="225.1" y2="812.4" stroke="#000" stroke-width="2"/><text transform="translate(202.53 817.13) scale(1.05 1)" font-size="12" font-weight="bold" fill="#000" stroke="#000" stroke-width="0.35">4.5</text><line x1="221.1" y1="844.5" x2="225.1" y2="844.5" stroke="#000" stroke-width="2"/><text transform="translate(202.7 849.23) scale(1.05 1)" font-size="12" font-weight="bold" fill="#000" stroke="#000" stroke-width="0.35">0.0</text><line x1="224.1" y1="844.5" x2="311" y2="844.5" stroke="#000" stroke-width="2"/><line x1="246.7" y1="844.5" x2="246.7" y2="848.5" stroke="#000" stroke-width="2"/><text transform="translate(241.85 860.2) scale(0.93 1)" font-size="12.2" font-weight="bold" fill="#000" stroke="#000" stroke-width="0.35">-/-</text><line x1="289.6" y1="844.5" x2="289.6" y2="848.5" stroke="#000" stroke-width="2"/><text transform="translate(281.89 860.2) scale(0.93 1)" font-size="12.2" font-weight="bold" fill="#000" stroke="#000" stroke-width="0.35">+/+</text><polyline points="246.4,716.5 246.4,710.8 290.1,710.8 290.1,716.5" fill="none" stroke="#000" stroke-width="2"/><path d="M269.8 705.88L269.8 702.94M269.8 705.88L272.6 704.97M269.8 705.88L271.53 708.26M269.8 705.88L268.07 708.26M269.8 705.88L267 704.97" stroke="#000" stroke-width="1.87" stroke-linecap="round" fill="none"/><circle cx="246.7" cy="766.5" r="3.3" fill="none" stroke="#000" stroke-width="1.6"/><circle cx="246.2" cy="789" r="3.3" fill="none" stroke="#000" stroke-width="1.6"/><circle cx="252.4" cy="788.3" r="3.3" fill="none" stroke="#000" stroke-width="1.6"/><circle cx="235.1" cy="818.5" r="3.3" fill="none" stroke="#000" stroke-width="1.6"/><circle cx="241" cy="816.7" r="3.3" fill="none" stroke="#000" stroke-width="1.6"/><circle cx="246.7" cy="820.2" r="3.3" fill="none" stroke="#000" stroke-width="1.6"/><circle cx="252.4" cy="818.5" r="3.3" fill="none" stroke="#000" stroke-width="1.6"/><circle cx="252.4" cy="830.3" r="3.3" fill="none" stroke="#000" stroke-width="1.6"/><circle cx="246.2" cy="834.6" r="3.3" fill="none" stroke="#000" stroke-width="1.6"/><line x1="231.6" y1="809.1" x2="261.8" y2="809.1" stroke="#000" stroke-width="1.8"/><circle cx="277.5" cy="735.3" r="3.6" fill="#000"/><circle cx="289.3" cy="746.4" r="3.6" fill="#000"/><circle cx="283.7" cy="767.4" r="3.6" fill="#000"/><circle cx="295.4" cy="770.4" r="3.6" fill="#000"/><circle cx="289.3" cy="773.3" r="3.6" fill="#000"/><circle cx="277.1" cy="776.8" r="3.6" fill="#000"/><circle cx="289.3" cy="788.1" r="3.6" fill="#000"/><circle cx="295.4" cy="808.6" r="3.6" fill="#000"/><circle cx="289.3" cy="819" r="3.6" fill="#000"/><line x1="280.6" y1="776.1" x2="304.6" y2="776.1" stroke="#000" stroke-width="1.8"/><text transform="translate(190.3 817.77) rotate(-90) scale(0.98 1)" font-size="14.24" font-weight="bold" stroke="#000" stroke-width="0.2">Count</text><text transform="translate(190.3 762.96) rotate(-90) scale(1.08 1)" font-size="14.1" font-weight="bold" stroke="#000" stroke-width="0.2">10</text><text transform="translate(182.2 746.24) rotate(-90) scale(1.13 1)" font-size="10.6" font-weight="bold" stroke="#000" stroke-width="0.2">6</text><g transform="translate(184.40 771.90) rotate(-90)"><path d="M0 0L6 5.7M6 0L0 5.7" stroke="#000" stroke-width="1.1"/></g><text transform="translate(379.86 690.8) scale(0.91 1)" font-size="13.52" font-weight="bold" fill="#000" stroke="#000" stroke-width="0.15" letter-spacing="1.05">TER119+</text><line x1="368.7" y1="715" x2="368.7" y2="845.3" stroke="#000" stroke-width="2"/><line x1="364.7" y1="716" x2="368.7" y2="716" stroke="#000" stroke-width="2"/><text transform="translate(349.64 720.73) scale(1.05 1)" font-size="12" font-weight="bold" fill="#000" stroke="#000" stroke-width="0.35">15</text><line x1="364.7" y1="758.8" x2="368.7" y2="758.8" stroke="#000" stroke-width="2"/><text transform="translate(349.8 763.53) scale(1.05 1)" font-size="12" font-weight="bold" fill="#000" stroke="#000" stroke-width="0.35">10</text><line x1="364.7" y1="801.5" x2="368.7" y2="801.5" stroke="#000" stroke-width="2"/><text transform="translate(356.64 806.23) scale(1.05 1)" font-size="12" font-weight="bold" fill="#000" stroke="#000" stroke-width="0.35">5</text><line x1="364.7" y1="844.3" x2="368.7" y2="844.3" stroke="#000" stroke-width="2"/><text transform="translate(356.81 849.03) scale(1.05 1)" font-size="12" font-weight="bold" fill="#000" stroke="#000" stroke-width="0.35">0</text><line x1="367.7" y1="844.3" x2="455.1" y2="844.3" stroke="#000" stroke-width="2"/><line x1="390" y1="844.3" x2="390" y2="848.3" stroke="#000" stroke-width="2"/><text transform="translate(385.15 860.2) scale(0.93 1)" font-size="12.2" font-weight="bold" fill="#000" stroke="#000" stroke-width="0.35">-/-</text><line x1="432.5" y1="844.3" x2="432.5" y2="848.3" stroke="#000" stroke-width="2"/><text transform="translate(424.79 860.2) scale(0.93 1)" font-size="12.2" font-weight="bold" fill="#000" stroke="#000" stroke-width="0.35">+/+</text><polyline points="388.8,716.5 388.8,710.8 432.5,710.8 432.5,716.5" fill="none" stroke="#000" stroke-width="2"/><path d="M410.8 705.48L410.8 702.54M410.8 705.48L413.6 704.57M410.8 705.48L412.53 707.86M410.8 705.48L409.07 707.86M410.8 705.48L408 704.57" stroke="#000" stroke-width="1.87" stroke-linecap="round" fill="none"/><circle cx="390" cy="775.9" r="3.3" fill="none" stroke="#000" stroke-width="1.6"/><circle cx="390" cy="790" r="3.3" fill="none" stroke="#000" stroke-width="1.6"/><circle cx="383.9" cy="800.4" r="3.3" fill="none" stroke="#000" stroke-width="1.6"/><circle cx="392.6" cy="800.4" r="3.3" fill="none" stroke="#000" stroke-width="1.6"/><circle cx="396.1" cy="809.8" r="3.3" fill="none" stroke="#000" stroke-width="1.6"/><circle cx="390" cy="812.1" r="3.3" fill="none" stroke="#000" stroke-width="1.6"/><line x1="375.2" y1="798.7" x2="405.6" y2="798.7" stroke="#000" stroke-width="1.8"/><circle cx="432.5" cy="722.6" r="3.6" fill="#000"/><circle cx="432.5" cy="743.4" r="3.6" fill="#000"/><circle cx="420.7" cy="757.7" r="3.6" fill="#000"/><circle cx="432.5" cy="757.7" r="3.6" fill="#000"/><circle cx="438.6" cy="768.1" r="3.6" fill="#000"/><circle cx="432.5" cy="771.6" r="3.6" fill="#000"/><line x1="417.8" y1="753.9" x2="447.8" y2="753.9" stroke="#000" stroke-width="1.8"/><text transform="translate(343 817.97) rotate(-90) scale(0.98 1)" font-size="14.24" font-weight="bold" stroke="#000" stroke-width="0.2">Count</text><text transform="translate(343 763.16) rotate(-90) scale(1.08 1)" font-size="14.1" font-weight="bold" stroke="#000" stroke-width="0.2">10</text><text transform="translate(334.9 746.44) rotate(-90) scale(1.13 1)" font-size="10.6" font-weight="bold" stroke="#000" stroke-width="0.2">6</text><g transform="translate(337.10 772.10) rotate(-90)"><path d="M0 0L6 5.7M6 0L0 5.7" stroke="#000" stroke-width="1.1"/></g></svg></body></html>
